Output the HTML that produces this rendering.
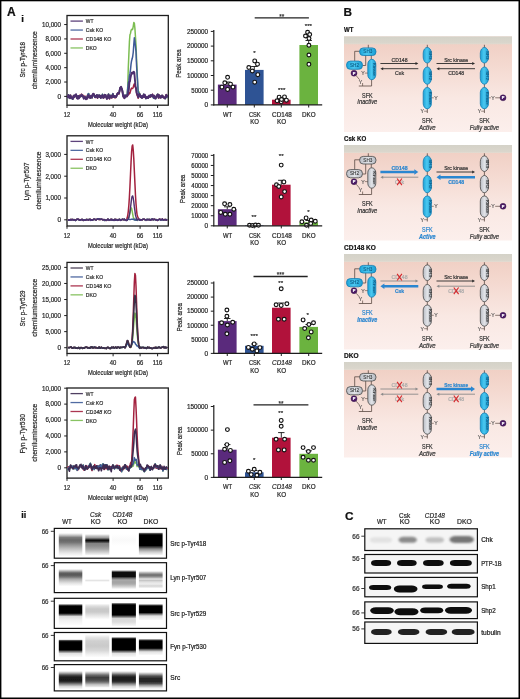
<!DOCTYPE html>
<html><head><meta charset="utf-8"><title>Figure</title><style>html,body{margin:0;padding:0;background:#fff;width:520px;height:699px;overflow:hidden}svg{display:block;font-family:"Liberation Sans",sans-serif;will-change:transform;filter:blur(0.3px)}</style></head><body><svg width="520" height="699" viewBox="0 0 520 699" font-family="'Liberation Sans', sans-serif"><defs><linearGradient id="lg0" gradientUnits="userSpaceOnUse" x1="0" y1="533.00" x2="0" y2="556.00"><stop offset="0.0000" stop-color="rgb(255,255,255)"/><stop offset="0.0870" stop-color="rgb(205,205,205)"/><stop offset="0.1957" stop-color="rgb(125,125,125)"/><stop offset="0.3043" stop-color="rgb(105,105,105)"/><stop offset="0.3913" stop-color="rgb(112,112,112)"/><stop offset="0.5217" stop-color="rgb(150,150,150)"/><stop offset="0.6957" stop-color="rgb(195,195,195)"/><stop offset="0.8696" stop-color="rgb(232,232,232)"/><stop offset="1.0000" stop-color="rgb(252,252,252)"/></linearGradient><linearGradient id="lg1" gradientUnits="userSpaceOnUse" x1="0" y1="534.00" x2="0" y2="555.00"><stop offset="0.0000" stop-color="rgb(255,255,255)"/><stop offset="0.0952" stop-color="rgb(195,195,195)"/><stop offset="0.1905" stop-color="rgb(150,150,150)"/><stop offset="0.2381" stop-color="rgb(70,70,70)"/><stop offset="0.3095" stop-color="rgb(8,8,8)"/><stop offset="0.3810" stop-color="rgb(60,60,60)"/><stop offset="0.4524" stop-color="rgb(130,130,130)"/><stop offset="0.5714" stop-color="rgb(140,140,140)"/><stop offset="0.7143" stop-color="rgb(165,165,165)"/><stop offset="0.8571" stop-color="rgb(205,205,205)"/><stop offset="1.0000" stop-color="rgb(245,245,245)"/></linearGradient><linearGradient id="lg2" gradientUnits="userSpaceOnUse" x1="0" y1="534.00" x2="0" y2="546.00"><stop offset="0.0000" stop-color="rgb(255,255,255)"/><stop offset="0.5000" stop-color="rgb(249,249,249)"/><stop offset="1.0000" stop-color="rgb(255,255,255)"/></linearGradient><linearGradient id="lg3" gradientUnits="userSpaceOnUse" x1="0" y1="532.30" x2="0" y2="555.00"><stop offset="0.0000" stop-color="rgb(255,255,255)"/><stop offset="0.0573" stop-color="rgb(70,70,70)"/><stop offset="0.1101" stop-color="rgb(5,5,5)"/><stop offset="0.5815" stop-color="rgb(5,5,5)"/><stop offset="0.6476" stop-color="rgb(60,60,60)"/><stop offset="0.7357" stop-color="rgb(140,140,140)"/><stop offset="0.8678" stop-color="rgb(205,205,205)"/><stop offset="1.0000" stop-color="rgb(246,246,246)"/></linearGradient><linearGradient id="lg4" gradientUnits="userSpaceOnUse" x1="0" y1="569.00" x2="0" y2="586.00"><stop offset="0.0000" stop-color="rgb(255,255,255)"/><stop offset="0.1176" stop-color="rgb(180,180,180)"/><stop offset="0.2353" stop-color="rgb(95,95,95)"/><stop offset="0.3529" stop-color="rgb(88,88,88)"/><stop offset="0.4706" stop-color="rgb(118,118,118)"/><stop offset="0.5882" stop-color="rgb(170,170,170)"/><stop offset="0.8235" stop-color="rgb(225,225,225)"/><stop offset="1.0000" stop-color="rgb(252,252,252)"/></linearGradient><linearGradient id="lg5" gradientUnits="userSpaceOnUse" x1="0" y1="579.00" x2="0" y2="582.00"><stop offset="0.0000" stop-color="rgb(255,255,255)"/><stop offset="0.5000" stop-color="rgb(228,228,228)"/><stop offset="1.0000" stop-color="rgb(255,255,255)"/></linearGradient><linearGradient id="lg6" gradientUnits="userSpaceOnUse" x1="0" y1="570.00" x2="0" y2="589.00"><stop offset="0.0000" stop-color="rgb(255,255,255)"/><stop offset="0.0789" stop-color="rgb(90,90,90)"/><stop offset="0.1316" stop-color="rgb(8,8,8)"/><stop offset="0.3421" stop-color="rgb(8,8,8)"/><stop offset="0.4211" stop-color="rgb(100,100,100)"/><stop offset="0.5263" stop-color="rgb(170,170,170)"/><stop offset="0.6316" stop-color="rgb(162,162,162)"/><stop offset="0.7368" stop-color="rgb(170,170,170)"/><stop offset="0.8947" stop-color="rgb(215,215,215)"/><stop offset="1.0000" stop-color="rgb(252,252,252)"/></linearGradient><linearGradient id="lg7" gradientUnits="userSpaceOnUse" x1="0" y1="571.00" x2="0" y2="588.00"><stop offset="0.0000" stop-color="rgb(255,255,255)"/><stop offset="0.1176" stop-color="rgb(170,170,170)"/><stop offset="0.2353" stop-color="rgb(105,105,105)"/><stop offset="0.3529" stop-color="rgb(150,150,150)"/><stop offset="0.4706" stop-color="rgb(230,230,230)"/><stop offset="0.5588" stop-color="rgb(198,198,198)"/><stop offset="0.6471" stop-color="rgb(225,225,225)"/><stop offset="0.7647" stop-color="rgb(238,238,238)"/><stop offset="0.8824" stop-color="rgb(212,212,212)"/><stop offset="1.0000" stop-color="rgb(246,246,246)"/></linearGradient><linearGradient id="lg8" gradientUnits="userSpaceOnUse" x1="0" y1="603.80" x2="0" y2="625.00"><stop offset="0.0000" stop-color="rgb(255,255,255)"/><stop offset="0.0660" stop-color="rgb(60,60,60)"/><stop offset="0.1179" stop-color="rgb(5,5,5)"/><stop offset="0.4481" stop-color="rgb(5,5,5)"/><stop offset="0.5094" stop-color="rgb(90,90,90)"/><stop offset="0.5991" stop-color="rgb(220,220,220)"/><stop offset="0.7642" stop-color="rgb(240,240,240)"/><stop offset="1.0000" stop-color="rgb(252,252,252)"/></linearGradient><linearGradient id="lg9" gradientUnits="userSpaceOnUse" x1="0" y1="603.50" x2="0" y2="619.00"><stop offset="0.0000" stop-color="rgb(255,255,255)"/><stop offset="0.1613" stop-color="rgb(222,222,222)"/><stop offset="0.3548" stop-color="rgb(200,200,200)"/><stop offset="0.5484" stop-color="rgb(202,202,202)"/><stop offset="0.7419" stop-color="rgb(225,225,225)"/><stop offset="1.0000" stop-color="rgb(252,252,252)"/></linearGradient><linearGradient id="lg10" gradientUnits="userSpaceOnUse" x1="0" y1="602.60" x2="0" y2="626.00"><stop offset="0.0000" stop-color="rgb(255,255,255)"/><stop offset="0.0556" stop-color="rgb(55,55,55)"/><stop offset="0.1026" stop-color="rgb(5,5,5)"/><stop offset="0.5299" stop-color="rgb(5,5,5)"/><stop offset="0.5855" stop-color="rgb(90,90,90)"/><stop offset="0.6795" stop-color="rgb(215,215,215)"/><stop offset="0.8291" stop-color="rgb(220,220,220)"/><stop offset="1.0000" stop-color="rgb(248,248,248)"/></linearGradient><linearGradient id="lg11" gradientUnits="userSpaceOnUse" x1="0" y1="603.90" x2="0" y2="620.00"><stop offset="0.0000" stop-color="rgb(255,255,255)"/><stop offset="0.0870" stop-color="rgb(60,60,60)"/><stop offset="0.1553" stop-color="rgb(5,5,5)"/><stop offset="0.5404" stop-color="rgb(5,5,5)"/><stop offset="0.6211" stop-color="rgb(100,100,100)"/><stop offset="0.7516" stop-color="rgb(225,225,225)"/><stop offset="1.0000" stop-color="rgb(248,248,248)"/></linearGradient><linearGradient id="lg12" gradientUnits="userSpaceOnUse" x1="0" y1="639.30" x2="0" y2="657.00"><stop offset="0.0000" stop-color="rgb(255,255,255)"/><stop offset="0.0734" stop-color="rgb(60,60,60)"/><stop offset="0.1299" stop-color="rgb(5,5,5)"/><stop offset="0.6045" stop-color="rgb(5,5,5)"/><stop offset="0.6780" stop-color="rgb(100,100,100)"/><stop offset="0.8023" stop-color="rgb(225,225,225)"/><stop offset="1.0000" stop-color="rgb(250,250,250)"/></linearGradient><linearGradient id="lg13" gradientUnits="userSpaceOnUse" x1="0" y1="634.50" x2="0" y2="657.00"><stop offset="0.0000" stop-color="rgb(255,255,255)"/><stop offset="0.1333" stop-color="rgb(228,228,228)"/><stop offset="0.2889" stop-color="rgb(208,208,208)"/><stop offset="0.5111" stop-color="rgb(202,202,202)"/><stop offset="0.7111" stop-color="rgb(215,215,215)"/><stop offset="0.8667" stop-color="rgb(238,238,238)"/><stop offset="1.0000" stop-color="rgb(252,252,252)"/></linearGradient><linearGradient id="lg14" gradientUnits="userSpaceOnUse" x1="0" y1="636.90" x2="0" y2="657.00"><stop offset="0.0000" stop-color="rgb(255,255,255)"/><stop offset="0.0647" stop-color="rgb(60,60,60)"/><stop offset="0.1144" stop-color="rgb(5,5,5)"/><stop offset="0.6517" stop-color="rgb(5,5,5)"/><stop offset="0.7164" stop-color="rgb(100,100,100)"/><stop offset="0.8259" stop-color="rgb(225,225,225)"/><stop offset="1.0000" stop-color="rgb(250,250,250)"/></linearGradient><linearGradient id="lg15" gradientUnits="userSpaceOnUse" x1="0" y1="638.80" x2="0" y2="655.00"><stop offset="0.0000" stop-color="rgb(255,255,255)"/><stop offset="0.0802" stop-color="rgb(60,60,60)"/><stop offset="0.1420" stop-color="rgb(5,5,5)"/><stop offset="0.5864" stop-color="rgb(5,5,5)"/><stop offset="0.6667" stop-color="rgb(100,100,100)"/><stop offset="0.8025" stop-color="rgb(225,225,225)"/><stop offset="1.0000" stop-color="rgb(250,250,250)"/></linearGradient><linearGradient id="lg16" gradientUnits="userSpaceOnUse" x1="0" y1="671.00" x2="0" y2="689.00"><stop offset="0.0000" stop-color="rgb(255,255,255)"/><stop offset="0.1111" stop-color="rgb(175,175,175)"/><stop offset="0.2222" stop-color="rgb(80,80,80)"/><stop offset="0.3333" stop-color="rgb(28,28,28)"/><stop offset="0.5000" stop-color="rgb(25,25,25)"/><stop offset="0.6111" stop-color="rgb(50,50,50)"/><stop offset="0.7222" stop-color="rgb(130,130,130)"/><stop offset="0.8611" stop-color="rgb(215,215,215)"/><stop offset="1.0000" stop-color="rgb(250,250,250)"/></linearGradient><linearGradient id="lg17" gradientUnits="userSpaceOnUse" x1="0" y1="671.00" x2="0" y2="687.50"><stop offset="0.0000" stop-color="rgb(255,255,255)"/><stop offset="0.1212" stop-color="rgb(185,185,185)"/><stop offset="0.2424" stop-color="rgb(110,110,110)"/><stop offset="0.3939" stop-color="rgb(62,62,62)"/><stop offset="0.5455" stop-color="rgb(72,72,72)"/><stop offset="0.6667" stop-color="rgb(110,110,110)"/><stop offset="0.8182" stop-color="rgb(190,190,190)"/><stop offset="1.0000" stop-color="rgb(245,245,245)"/></linearGradient><linearGradient id="lg18" gradientUnits="userSpaceOnUse" x1="0" y1="671.00" x2="0" y2="689.00"><stop offset="0.0000" stop-color="rgb(255,255,255)"/><stop offset="0.1111" stop-color="rgb(175,175,175)"/><stop offset="0.2222" stop-color="rgb(80,80,80)"/><stop offset="0.3333" stop-color="rgb(30,30,30)"/><stop offset="0.5000" stop-color="rgb(28,28,28)"/><stop offset="0.6111" stop-color="rgb(52,52,52)"/><stop offset="0.7222" stop-color="rgb(135,135,135)"/><stop offset="0.8611" stop-color="rgb(215,215,215)"/><stop offset="1.0000" stop-color="rgb(250,250,250)"/></linearGradient><linearGradient id="lg19" gradientUnits="userSpaceOnUse" x1="0" y1="672.00" x2="0" y2="690.00"><stop offset="0.0000" stop-color="rgb(255,255,255)"/><stop offset="0.1111" stop-color="rgb(175,175,175)"/><stop offset="0.2222" stop-color="rgb(85,85,85)"/><stop offset="0.3611" stop-color="rgb(40,40,40)"/><stop offset="0.5278" stop-color="rgb(40,40,40)"/><stop offset="0.6389" stop-color="rgb(75,75,75)"/><stop offset="0.7500" stop-color="rgb(160,160,160)"/><stop offset="0.8889" stop-color="rgb(240,240,240)"/><stop offset="1.0000" stop-color="rgb(254,254,254)"/></linearGradient></defs>
<defs>
<linearGradient id="pinkg" x1="0" y1="0" x2="0" y2="1">
 <stop offset="0" stop-color="#efcdc1"/><stop offset="0.3" stop-color="#f4d9d0"/><stop offset="0.65" stop-color="#f9e8e3"/><stop offset="1" stop-color="#fcefec"/>
</linearGradient>
<linearGradient id="memg" x1="0" y1="0" x2="0" y2="1">
 <stop offset="0" stop-color="#d4d2c8"/><stop offset="0.75" stop-color="#dad6cc"/><stop offset="0.88" stop-color="#e2dad0"/><stop offset="1" stop-color="#efcdc1" stop-opacity="0"/>
</linearGradient>
<linearGradient id="cyg" x1="0" y1="0" x2="1" y2="0">
 <stop offset="0" stop-color="#1ba3d8"/><stop offset="0.45" stop-color="#4cc8f0"/><stop offset="1" stop-color="#189cd2"/>
</linearGradient>
<linearGradient id="grg" x1="0" y1="0" x2="1" y2="0">
 <stop offset="0" stop-color="#b9bdc5"/><stop offset="0.5" stop-color="#e2e4e8"/><stop offset="1" stop-color="#b5b9c1"/>
</linearGradient>
<filter id="bH" x="-10%" y="-10%" width="120%" height="120%"><feGaussianBlur stdDeviation="0.45 0.25"/></filter>
<filter id="bA1" x="-10%" y="-100%" width="120%" height="300%"><feGaussianBlur stdDeviation="0.35 0.8"/></filter>
<filter id="bA2" x="-10%" y="-100%" width="120%" height="300%"><feGaussianBlur stdDeviation="0.35 1.6"/></filter>
<filter id="bA3" x="-10%" y="-100%" width="120%" height="300%"><feGaussianBlur stdDeviation="0.35 2.6"/></filter>
<filter id="bC1" x="-10%" y="-100%" width="120%" height="300%"><feGaussianBlur stdDeviation="0.7 0.6"/></filter>
<filter id="bC2" x="-20%" y="-100%" width="140%" height="300%"><feGaussianBlur stdDeviation="1.2 1.2"/></filter>
</defs>
<text x="6.90" y="16.00" font-size="12" text-anchor="start" fill="#111" stroke="#111" stroke-width="0.22" font-weight="bold" >A</text>
<text x="22.70" y="21.70" font-size="9.6" text-anchor="middle" fill="#111" stroke="#111" stroke-width="0.22" font-weight="bold" >i</text>
<rect x="67.0" y="15.5" width="101.30" height="89.70" fill="none" stroke="#1e1e1e" stroke-width="1.3"/>
<path d="M67.80,98.31 L68.35,94.93 L68.90,97.25 L69.45,95.38 L70.00,97.72 L70.55,95.33 L71.10,97.67 L71.65,98.04 L72.20,98.93 L72.75,99.15 L73.30,97.11 L73.85,96.37 L74.40,97.11 L74.95,95.30 L75.50,94.93 L76.05,94.52 L76.60,96.71 L77.15,98.16 L77.70,97.92 L78.25,95.70 L78.80,97.14 L79.35,97.17 L79.90,96.10 L80.45,96.63 L81.00,96.17 L81.55,94.42 L82.10,95.41 L82.65,95.78 L83.20,95.96 L83.75,98.29 L84.30,98.13 L84.85,96.67 L85.40,98.21 L85.95,99.10 L86.50,97.22 L87.05,98.36 L87.60,95.08 L88.15,93.91 L88.70,93.61 L89.25,96.98 L89.80,96.82 L90.35,97.55 L90.90,96.52 L91.45,97.00 L92.00,97.90 L92.55,96.07 L93.10,94.39 L93.65,94.29 L94.20,94.78 L94.75,97.27 L95.30,96.79 L95.85,96.72 L96.40,96.90 L96.95,94.90 L97.50,97.62 L98.05,96.40 L98.60,95.24 L99.15,95.11 L99.70,96.91 L100.25,96.24 L100.80,98.04 L101.35,96.88 L101.90,96.44 L102.45,94.23 L103.00,97.25 L103.55,97.65 L104.10,96.75 L104.65,94.72 L105.20,95.75 L105.75,95.95 L106.30,97.13 L106.85,98.17 L107.40,97.81 L107.95,95.98 L108.50,93.96 L109.05,97.10 L109.60,97.85 L110.15,95.24 L110.70,95.92 L111.25,95.86 L111.80,97.49 L112.35,94.85 L112.90,93.65 L113.45,96.70 L114.00,96.61 L114.55,95.78 L115.10,97.14 L115.65,97.06 L116.20,96.95 L116.75,95.21 L117.30,94.23 L117.85,93.38 L118.40,93.84 L118.95,93.45 L119.50,90.84 L120.05,88.40 L120.60,87.42 L121.15,87.71 L121.70,88.76 L122.25,89.71 L122.80,93.45 L123.35,96.06 L123.90,97.28 L124.45,97.76 L125.00,94.96 L125.55,96.91 L126.10,96.69 L126.65,95.46 L127.20,94.11 L127.75,86.05 L128.30,67.66 L128.85,55.00 L129.40,42.16 L129.95,34.70 L130.50,33.45 L131.05,30.47 L131.60,29.37 L132.15,29.71 L132.70,29.21 L133.25,26.36 L133.80,22.55 L134.35,23.17 L134.90,28.26 L135.45,36.84 L136.00,45.08 L136.55,58.73 L137.10,69.86 L137.65,85.20 L138.20,91.30 L138.75,91.40 L139.30,92.88 L139.85,93.98 L140.40,96.55 L140.95,96.62 L141.50,96.73 L142.05,98.13 L142.60,96.36 L143.15,97.31 L143.70,94.35 L144.25,96.22 L144.80,95.61 L145.35,96.72 L145.90,98.46 L146.45,98.28 L147.00,96.95 L147.55,97.09 L148.10,98.07 L148.65,97.02 L149.20,95.88 L149.75,95.98 L150.30,95.94 L150.85,94.83 L151.40,95.43 L151.95,96.48 L152.50,95.68 L153.05,96.94 L153.60,98.30 L154.15,97.18 L154.70,98.30 L155.25,98.57 L155.80,97.82 L156.35,96.38 L156.90,95.40 L157.45,94.27 L158.00,94.18 L158.55,97.63 L159.10,95.44 L159.65,96.93 L160.20,96.82 L160.75,97.71 L161.30,95.57 L161.85,96.46 L162.40,95.62 L162.95,96.91 L163.50,97.67 L164.05,97.47 L164.60,97.64 L165.15,98.67 L165.70,96.06 L166.25,95.07 L166.80,97.58 L167.35,94.64" fill="none" stroke="#7cbd52" stroke-width="1.5" stroke-linejoin="round"/>
<path d="M67.80,97.93 L68.35,95.47 L68.90,97.24 L69.45,95.75 L70.00,97.94 L70.55,95.07 L71.10,97.73 L71.65,97.54 L72.20,98.55 L72.75,99.05 L73.30,95.95 L73.85,95.93 L74.40,97.60 L74.95,96.01 L75.50,95.49 L76.05,94.57 L76.60,96.54 L77.15,98.03 L77.70,98.57 L78.25,95.65 L78.80,98.33 L79.35,97.04 L79.90,95.14 L80.45,95.54 L81.00,95.47 L81.55,94.11 L82.10,95.47 L82.65,94.81 L83.20,96.14 L83.75,97.87 L84.30,97.06 L84.85,95.96 L85.40,97.86 L85.95,98.56 L86.50,97.84 L87.05,98.60 L87.60,95.59 L88.15,95.22 L88.70,94.86 L89.25,97.04 L89.80,97.14 L90.35,97.92 L90.90,96.52 L91.45,96.41 L92.00,97.83 L92.55,94.99 L93.10,94.13 L93.65,93.95 L94.20,94.67 L94.75,97.37 L95.30,97.65 L95.85,96.93 L96.40,96.58 L96.95,95.79 L97.50,98.32 L98.05,96.35 L98.60,95.48 L99.15,95.90 L99.70,97.29 L100.25,96.16 L100.80,97.26 L101.35,95.91 L101.90,96.59 L102.45,95.43 L103.00,97.20 L103.55,98.03 L104.10,97.11 L104.65,95.26 L105.20,96.48 L105.75,96.14 L106.30,97.12 L106.85,98.69 L107.40,97.68 L107.95,96.44 L108.50,94.17 L109.05,97.49 L109.60,98.86 L110.15,96.33 L110.70,96.57 L111.25,96.34 L111.80,98.01 L112.35,95.47 L112.90,93.75 L113.45,96.32 L114.00,96.17 L114.55,96.40 L115.10,97.89 L115.65,97.68 L116.20,97.29 L116.75,95.45 L117.30,94.03 L117.85,92.86 L118.40,93.55 L118.95,94.17 L119.50,91.88 L120.05,88.34 L120.60,87.39 L121.15,86.99 L121.70,88.84 L122.25,90.47 L122.80,94.19 L123.35,96.55 L123.90,97.68 L124.45,98.29 L125.00,95.33 L125.55,96.55 L126.10,96.17 L126.65,95.41 L127.20,96.60 L127.75,95.05 L128.30,93.67 L128.85,94.44 L129.40,92.71 L129.95,93.16 L130.50,90.99 L131.05,89.02 L131.60,88.05 L132.15,88.58 L132.70,88.50 L133.25,87.23 L133.80,84.97 L134.35,83.78 L134.90,86.25 L135.45,87.55 L136.00,88.02 L136.55,92.79 L137.10,95.59 L137.65,96.07 L138.20,98.28 L138.75,95.79 L139.30,95.00 L139.85,95.45 L140.40,96.83 L140.95,97.26 L141.50,96.60 L142.05,98.27 L142.60,96.23 L143.15,97.36 L143.70,94.90 L144.25,97.31 L144.80,94.95 L145.35,96.86 L145.90,98.00 L146.45,97.29 L147.00,97.54 L147.55,97.15 L148.10,98.23 L148.65,96.34 L149.20,95.91 L149.75,96.68 L150.30,97.09 L150.85,95.70 L151.40,95.97 L151.95,95.61 L152.50,94.18 L153.05,95.99 L153.60,96.76 L154.15,95.65 L154.70,96.98 L155.25,98.26 L155.80,97.54 L156.35,97.04 L156.90,96.41 L157.45,94.32 L158.00,94.69 L158.55,97.81 L159.10,94.91 L159.65,97.44 L160.20,97.87 L160.75,97.61 L161.30,96.06 L161.85,97.12 L162.40,95.41 L162.95,96.28 L163.50,97.04 L164.05,98.20 L164.60,97.19 L165.15,98.14 L165.70,95.96 L166.25,94.46 L166.80,96.69 L167.35,94.94" fill="none" stroke="#a3223f" stroke-width="1.5" stroke-linejoin="round"/>
<path d="M67.80,98.31 L68.35,94.93 L68.90,97.25 L69.45,95.38 L70.00,97.72 L70.55,95.33 L71.10,97.67 L71.65,98.04 L72.20,98.93 L72.75,99.15 L73.30,97.11 L73.85,96.37 L74.40,97.11 L74.95,95.30 L75.50,94.93 L76.05,94.52 L76.60,96.71 L77.15,98.16 L77.70,97.92 L78.25,95.70 L78.80,97.14 L79.35,97.17 L79.90,96.10 L80.45,96.63 L81.00,96.17 L81.55,94.42 L82.10,95.41 L82.65,95.78 L83.20,95.96 L83.75,98.29 L84.30,98.13 L84.85,96.67 L85.40,98.21 L85.95,99.10 L86.50,97.22 L87.05,98.36 L87.60,95.08 L88.15,93.91 L88.70,93.61 L89.25,96.98 L89.80,96.82 L90.35,97.55 L90.90,96.52 L91.45,97.00 L92.00,97.90 L92.55,96.07 L93.10,94.39 L93.65,94.29 L94.20,94.78 L94.75,97.27 L95.30,96.79 L95.85,96.72 L96.40,96.90 L96.95,94.90 L97.50,97.62 L98.05,96.40 L98.60,95.24 L99.15,95.11 L99.70,96.91 L100.25,96.24 L100.80,98.04 L101.35,96.88 L101.90,96.44 L102.45,94.23 L103.00,97.25 L103.55,97.65 L104.10,96.75 L104.65,94.72 L105.20,95.75 L105.75,95.95 L106.30,97.13 L106.85,98.17 L107.40,97.81 L107.95,95.98 L108.50,93.96 L109.05,97.10 L109.60,97.85 L110.15,95.24 L110.70,95.92 L111.25,95.86 L111.80,97.49 L112.35,94.85 L112.90,93.65 L113.45,96.70 L114.00,96.61 L114.55,95.78 L115.10,97.14 L115.65,97.06 L116.20,96.95 L116.75,95.21 L117.30,94.23 L117.85,93.38 L118.40,93.84 L118.95,93.45 L119.50,90.84 L120.05,88.40 L120.60,87.42 L121.15,87.71 L121.70,88.76 L122.25,89.71 L122.80,93.45 L123.35,96.06 L123.90,97.28 L124.45,97.76 L125.00,94.96 L125.55,96.91 L126.10,96.69 L126.65,96.06 L127.20,94.18 L127.75,88.29 L128.30,83.02 L128.85,80.89 L129.40,75.61 L129.95,73.41 L130.50,69.61 L131.05,64.06 L131.60,60.68 L132.15,58.81 L132.70,56.51 L133.25,52.25 L133.80,44.49 L134.35,37.85 L134.90,41.69 L135.45,46.42 L136.00,51.58 L136.55,65.23 L137.10,74.91 L137.65,82.31 L138.20,92.43 L138.75,92.89 L139.30,94.56 L139.85,94.34 L140.40,96.55 L140.95,96.62 L141.50,96.73 L142.05,98.13 L142.60,96.36 L143.15,97.31 L143.70,94.35 L144.25,96.22 L144.80,95.61 L145.35,96.72 L145.90,98.46 L146.45,98.28 L147.00,96.95 L147.55,97.09 L148.10,98.07 L148.65,97.02 L149.20,95.88 L149.75,95.98 L150.30,95.94 L150.85,94.83 L151.40,95.43 L151.95,96.48 L152.50,95.68 L153.05,96.94 L153.60,98.30 L154.15,97.18 L154.70,98.30 L155.25,98.57 L155.80,97.82 L156.35,96.38 L156.90,95.40 L157.45,94.27 L158.00,94.18 L158.55,97.63 L159.10,95.44 L159.65,96.93 L160.20,96.82 L160.75,97.71 L161.30,95.57 L161.85,96.46 L162.40,95.62 L162.95,96.91 L163.50,97.67 L164.05,97.47 L164.60,97.64 L165.15,98.67 L165.70,96.06 L166.25,95.07 L166.80,97.58 L167.35,94.64" fill="none" stroke="#3e5b98" stroke-width="1.5" stroke-linejoin="round"/>
<path d="M67.80,98.15 L68.35,94.93 L68.90,97.30 L69.45,96.03 L70.00,98.37 L70.55,95.87 L71.10,96.94 L71.65,97.70 L72.20,97.81 L72.75,98.81 L73.30,96.50 L73.85,95.50 L74.40,96.87 L74.95,95.72 L75.50,94.58 L76.05,94.30 L76.60,96.86 L77.15,98.43 L77.70,98.73 L78.25,96.08 L78.80,98.42 L79.35,97.65 L79.90,96.17 L80.45,95.79 L81.00,96.32 L81.55,95.30 L82.10,95.96 L82.65,95.94 L83.20,97.00 L83.75,98.83 L84.30,98.22 L84.85,97.05 L85.40,97.57 L85.95,99.27 L86.50,97.94 L87.05,98.79 L87.60,96.11 L88.15,95.30 L88.70,95.23 L89.25,97.80 L89.80,97.73 L90.35,97.91 L90.90,95.66 L91.45,95.93 L92.00,97.34 L92.55,94.84 L93.10,93.74 L93.65,93.92 L94.20,94.63 L94.75,96.73 L95.30,96.94 L95.85,96.03 L96.40,96.43 L96.95,94.86 L97.50,97.68 L98.05,96.65 L98.60,95.90 L99.15,95.29 L99.70,96.71 L100.25,95.70 L100.80,98.03 L101.35,95.95 L101.90,96.56 L102.45,95.20 L103.00,97.82 L103.55,97.69 L104.10,97.17 L104.65,94.75 L105.20,95.28 L105.75,95.06 L106.30,97.69 L106.85,98.96 L107.40,98.47 L107.95,96.53 L108.50,94.87 L109.05,97.53 L109.60,98.39 L110.15,95.84 L110.70,96.74 L111.25,96.09 L111.80,97.43 L112.35,95.64 L112.90,94.97 L113.45,96.94 L114.00,97.15 L114.55,96.03 L115.10,96.70 L115.65,96.27 L116.20,96.52 L116.75,95.43 L117.30,93.64 L117.85,93.19 L118.40,93.31 L118.95,93.14 L119.50,91.15 L120.05,88.14 L120.60,87.33 L121.15,86.80 L121.70,88.45 L122.25,90.34 L122.80,94.13 L123.35,96.71 L123.90,97.51 L124.45,98.17 L125.00,95.76 L125.55,96.77 L126.10,95.78 L126.65,95.40 L127.20,95.88 L127.75,95.19 L128.30,92.30 L128.85,89.45 L129.40,82.47 L129.95,81.29 L130.50,77.67 L131.05,75.32 L131.60,73.06 L132.15,72.55 L132.70,73.55 L133.25,72.23 L133.80,71.68 L134.35,72.73 L134.90,79.34 L135.45,85.86 L136.00,88.23 L136.55,92.48 L137.10,94.07 L137.65,94.92 L138.20,97.28 L138.75,95.72 L139.30,93.94 L139.85,94.31 L140.40,96.88 L140.95,97.31 L141.50,96.08 L142.05,97.50 L142.60,95.91 L143.15,96.82 L143.70,94.52 L144.25,96.79 L144.80,94.68 L145.35,96.52 L145.90,98.39 L146.45,97.78 L147.00,96.65 L147.55,96.90 L148.10,98.02 L148.65,97.26 L149.20,95.43 L149.75,96.49 L150.30,96.85 L150.85,95.23 L151.40,96.19 L151.95,96.13 L152.50,94.55 L153.05,95.74 L153.60,97.39 L154.15,95.62 L154.70,97.04 L155.25,98.48 L155.80,98.57 L156.35,96.39 L156.90,95.68 L157.45,95.04 L158.00,94.78 L158.55,97.75 L159.10,95.20 L159.65,97.08 L160.20,97.14 L160.75,97.67 L161.30,95.74 L161.85,97.30 L162.40,95.59 L162.95,96.85 L163.50,97.06 L164.05,97.72 L164.60,97.52 L165.15,98.46 L165.70,96.23 L166.25,95.00 L166.80,96.82 L167.35,94.80" fill="none" stroke="#4d2f6e" stroke-width="1.9" stroke-linejoin="round"/>
<line x1="64.20" y1="96.40" x2="67.0" y2="96.40" stroke="#1e1e1e" stroke-width="1"/>
<text x="61.00" y="98.70" font-size="6.5" text-anchor="end" fill="#2b2b2b" stroke="#2b2b2b" stroke-width="0.22" >0</text>
<line x1="64.20" y1="82.03" x2="67.0" y2="82.03" stroke="#1e1e1e" stroke-width="1"/>
<text x="61.00" y="84.33" font-size="6.5" text-anchor="end" fill="#2b2b2b" stroke="#2b2b2b" stroke-width="0.22" textLength="15.6" lengthAdjust="spacingAndGlyphs" >2,000</text>
<line x1="64.20" y1="67.66" x2="67.0" y2="67.66" stroke="#1e1e1e" stroke-width="1"/>
<text x="61.00" y="69.96" font-size="6.5" text-anchor="end" fill="#2b2b2b" stroke="#2b2b2b" stroke-width="0.22" textLength="15.6" lengthAdjust="spacingAndGlyphs" >4,000</text>
<line x1="64.20" y1="53.29" x2="67.0" y2="53.29" stroke="#1e1e1e" stroke-width="1"/>
<text x="61.00" y="55.59" font-size="6.5" text-anchor="end" fill="#2b2b2b" stroke="#2b2b2b" stroke-width="0.22" textLength="15.6" lengthAdjust="spacingAndGlyphs" >6,000</text>
<line x1="64.20" y1="38.92" x2="67.0" y2="38.92" stroke="#1e1e1e" stroke-width="1"/>
<text x="61.00" y="41.22" font-size="6.5" text-anchor="end" fill="#2b2b2b" stroke="#2b2b2b" stroke-width="0.22" textLength="15.6" lengthAdjust="spacingAndGlyphs" >8,000</text>
<line x1="64.20" y1="24.55" x2="67.0" y2="24.55" stroke="#1e1e1e" stroke-width="1"/>
<text x="61.00" y="26.85" font-size="6.5" text-anchor="end" fill="#2b2b2b" stroke="#2b2b2b" stroke-width="0.22" textLength="19.0" lengthAdjust="spacingAndGlyphs" >10,000</text>
<line x1="67.0" y1="105.2" x2="67.0" y2="108.0" stroke="#1e1e1e" stroke-width="1"/>
<text x="67.00" y="117.10" font-size="6.6" text-anchor="middle" fill="#2b2b2b" stroke="#2b2b2b" stroke-width="0.22" textLength="6.4" lengthAdjust="spacingAndGlyphs" >12</text>
<line x1="113.1" y1="105.2" x2="113.1" y2="108.0" stroke="#1e1e1e" stroke-width="1"/>
<text x="113.10" y="117.10" font-size="6.6" text-anchor="middle" fill="#2b2b2b" stroke="#2b2b2b" stroke-width="0.22" textLength="6.6" lengthAdjust="spacingAndGlyphs" >40</text>
<line x1="140.1" y1="105.2" x2="140.1" y2="108.0" stroke="#1e1e1e" stroke-width="1"/>
<text x="140.10" y="117.10" font-size="6.6" text-anchor="middle" fill="#2b2b2b" stroke="#2b2b2b" stroke-width="0.22" textLength="6.6" lengthAdjust="spacingAndGlyphs" >66</text>
<line x1="157.6" y1="105.2" x2="157.6" y2="108.0" stroke="#1e1e1e" stroke-width="1"/>
<text x="157.60" y="117.10" font-size="6.6" text-anchor="middle" fill="#2b2b2b" stroke="#2b2b2b" stroke-width="0.22" textLength="9.6" lengthAdjust="spacingAndGlyphs" >116</text>
<text x="117.90" y="127.10" font-size="7.0" text-anchor="middle" fill="#2b2b2b" stroke="#2b2b2b" stroke-width="0.22" textLength="60" lengthAdjust="spacingAndGlyphs" >Molecular weight (kDa)</text>
<text x="25.20" y="77.60" font-size="7.3" text-anchor="start" fill="#2b2b2b" stroke="#2b2b2b" stroke-width="0.22" textLength="35.6" lengthAdjust="spacingAndGlyphs" transform="rotate(-90 25.20 77.60)" >Src p-Tyr418</text>
<text x="36.90" y="89.30" font-size="7.3" text-anchor="start" fill="#2b2b2b" stroke="#2b2b2b" stroke-width="0.22" textLength="58.0" lengthAdjust="spacingAndGlyphs" transform="rotate(-90 36.90 89.30)" >chemiluminescence</text>
<line x1="70.5" y1="21.10" x2="82.9" y2="21.10" stroke="#4d2f6e" stroke-width="1.3" opacity="0.9"/>
<text x="85.80" y="23.20" font-size="5.9" text-anchor="start" fill="#2b2b2b" stroke="#2b2b2b" stroke-width="0.22" textLength="7.7" lengthAdjust="spacingAndGlyphs" >WT</text>
<line x1="70.5" y1="30.05" x2="82.9" y2="30.05" stroke="#3e5b98" stroke-width="1.3" opacity="0.9"/>
<text x="85.80" y="32.15" font-size="5.9" text-anchor="start" fill="#2b2b2b" stroke="#2b2b2b" stroke-width="0.22" textLength="17.3" lengthAdjust="spacingAndGlyphs" >Csk KO</text>
<line x1="70.5" y1="39.00" x2="82.9" y2="39.00" stroke="#a3223f" stroke-width="1.3" opacity="0.9"/>
<text x="85.80" y="41.10" font-size="5.9" text-anchor="start" fill="#2b2b2b" stroke="#2b2b2b" stroke-width="0.22" textLength="25.5" lengthAdjust="spacingAndGlyphs" >CD148 KO</text>
<line x1="70.5" y1="47.95" x2="82.9" y2="47.95" stroke="#7cbd52" stroke-width="1.3" opacity="0.9"/>
<text x="85.80" y="50.05" font-size="5.9" text-anchor="start" fill="#2b2b2b" stroke="#2b2b2b" stroke-width="0.22" textLength="11" lengthAdjust="spacingAndGlyphs" >DKO</text>
<rect x="67.0" y="135.8" width="101.30" height="90.20" fill="none" stroke="#1e1e1e" stroke-width="1.3"/>
<path d="M67.80,220.16 L68.35,220.22 L68.90,220.00 L69.45,219.96 L70.00,220.22 L70.55,219.60 L71.10,219.54 L71.65,219.94 L72.20,219.55 L72.75,219.67 L73.30,219.49 L73.85,220.05 L74.40,219.73 L74.95,220.32 L75.50,220.49 L76.05,219.89 L76.60,219.42 L77.15,219.05 L77.70,219.40 L78.25,219.21 L78.80,219.71 L79.35,220.24 L79.90,219.96 L80.45,220.25 L81.00,219.72 L81.55,219.58 L82.10,219.31 L82.65,220.06 L83.20,220.42 L83.75,219.84 L84.30,219.96 L84.85,220.06 L85.40,220.19 L85.95,219.74 L86.50,219.45 L87.05,219.70 L87.60,219.57 L88.15,219.62 L88.70,219.94 L89.25,219.37 L89.80,219.20 L90.35,219.42 L90.90,220.35 L91.45,219.87 L92.00,219.87 L92.55,220.27 L93.10,219.71 L93.65,219.33 L94.20,219.52 L94.75,219.20 L95.30,219.61 L95.85,219.97 L96.40,219.73 L96.95,219.26 L97.50,218.97 L98.05,218.80 L98.60,218.77 L99.15,219.46 L99.70,218.96 L100.25,219.45 L100.80,219.30 L101.35,219.29 L101.90,219.35 L102.45,219.63 L103.00,219.86 L103.55,219.64 L104.10,219.82 L104.65,220.40 L105.20,219.97 L105.75,220.31 L106.30,220.38 L106.85,220.19 L107.40,219.46 L107.95,218.98 L108.50,219.49 L109.05,220.21 L109.60,220.11 L110.15,219.75 L110.70,219.48 L111.25,219.95 L111.80,219.23 L112.35,219.72 L112.90,220.20 L113.45,219.94 L114.00,220.26 L114.55,219.57 L115.10,219.23 L115.65,220.30 L116.20,220.06 L116.75,219.50 L117.30,219.91 L117.85,220.32 L118.40,219.88 L118.95,219.47 L119.50,219.22 L120.05,219.64 L120.60,220.28 L121.15,219.65 L121.70,219.89 L122.25,219.25 L122.80,219.13 L123.35,219.46 L123.90,219.81 L124.45,219.14 L125.00,219.83 L125.55,220.15 L126.10,220.09 L126.65,220.39 L127.20,220.25 L127.75,219.36 L128.30,218.65 L128.85,217.64 L129.40,215.57 L129.95,212.95 L130.50,209.78 L131.05,207.89 L131.60,208.39 L132.15,211.10 L132.70,214.09 L133.25,217.00 L133.80,218.38 L134.35,219.76 L134.90,219.25 L135.45,220.26 L136.00,219.62 L136.55,220.15 L137.10,220.41 L137.65,219.55 L138.20,219.35 L138.75,219.43 L139.30,220.11 L139.85,219.50 L140.40,220.22 L140.95,219.73 L141.50,219.73 L142.05,219.83 L142.60,219.20 L143.15,219.38 L143.70,219.22 L144.25,219.35 L144.80,219.64 L145.35,219.99 L145.90,220.20 L146.45,219.94 L147.00,219.33 L147.55,219.71 L148.10,219.45 L148.65,219.71 L149.20,219.64 L149.75,219.27 L150.30,220.04 L150.85,220.17 L151.40,219.35 L151.95,219.01 L152.50,218.97 L153.05,219.97 L153.60,219.68 L154.15,219.32 L154.70,219.42 L155.25,219.65 L155.80,219.96 L156.35,219.50 L156.90,220.05 L157.45,220.34 L158.00,219.92 L158.55,219.92 L159.10,219.45 L159.65,219.22 L160.20,219.49 L160.75,220.14 L161.30,219.81 L161.85,219.94 L162.40,219.14 L162.95,219.94 L163.50,220.02 L164.05,219.83 L164.60,219.74 L165.15,219.45 L165.70,219.46 L166.25,220.03 L166.80,219.57 L167.35,219.43" fill="none" stroke="#7cbd52" stroke-width="1.5" stroke-linejoin="round"/>
<path d="M67.80,219.84 L68.35,219.89 L68.90,220.13 L69.45,219.92 L70.00,220.33 L70.55,219.69 L71.10,219.44 L71.65,219.72 L72.20,219.42 L72.75,219.71 L73.30,219.69 L73.85,220.21 L74.40,219.50 L74.95,220.25 L75.50,220.35 L76.05,219.76 L76.60,219.49 L77.15,219.06 L77.70,219.14 L78.25,219.27 L78.80,219.47 L79.35,220.12 L79.90,219.52 L80.45,219.99 L81.00,219.90 L81.55,219.69 L82.10,219.24 L82.65,219.94 L83.20,220.47 L83.75,219.92 L84.30,220.14 L84.85,220.14 L85.40,220.07 L85.95,219.98 L86.50,219.25 L87.05,219.69 L87.60,219.74 L88.15,219.70 L88.70,220.06 L89.25,219.31 L89.80,219.16 L90.35,219.18 L90.90,220.24 L91.45,220.09 L92.00,220.13 L92.55,220.11 L93.10,219.62 L93.65,219.21 L94.20,219.31 L94.75,219.12 L95.30,219.62 L95.85,220.26 L96.40,219.89 L96.95,219.08 L97.50,219.08 L98.05,219.00 L98.60,219.18 L99.15,219.74 L99.70,219.11 L100.25,219.27 L100.80,219.48 L101.35,219.35 L101.90,219.22 L102.45,219.78 L103.00,219.88 L103.55,219.66 L104.10,219.59 L104.65,220.27 L105.20,219.84 L105.75,220.12 L106.30,220.54 L106.85,219.96 L107.40,219.65 L107.95,219.01 L108.50,219.39 L109.05,220.34 L109.60,220.03 L110.15,219.79 L110.70,219.34 L111.25,219.83 L111.80,219.30 L112.35,219.73 L112.90,219.98 L113.45,219.82 L114.00,220.26 L114.55,219.43 L115.10,219.18 L115.65,220.20 L116.20,219.79 L116.75,219.39 L117.30,219.75 L117.85,220.22 L118.40,219.85 L118.95,219.52 L119.50,219.23 L120.05,219.74 L120.60,220.28 L121.15,219.90 L121.70,219.87 L122.25,219.23 L122.80,219.30 L123.35,219.66 L123.90,219.81 L124.45,219.42 L125.00,219.88 L125.55,220.10 L126.10,219.84 L126.65,219.48 L127.20,217.86 L127.75,215.28 L128.30,211.32 L128.85,205.37 L129.40,196.98 L129.95,186.52 L130.50,174.29 L131.05,162.15 L131.60,151.88 L132.15,146.06 L132.70,144.94 L133.25,149.97 L133.80,158.85 L134.35,171.10 L134.90,182.90 L135.45,194.82 L136.00,203.60 L136.55,210.37 L137.10,214.87 L137.65,216.56 L138.20,217.71 L138.75,218.95 L139.30,219.61 L139.85,219.54 L140.40,219.95 L140.95,219.62 L141.50,219.76 L142.05,220.08 L142.60,219.42 L143.15,219.34 L143.70,219.08 L144.25,219.10 L144.80,219.68 L145.35,220.09 L145.90,220.41 L146.45,219.89 L147.00,219.67 L147.55,219.91 L148.10,219.52 L148.65,219.68 L149.20,219.85 L149.75,219.34 L150.30,220.07 L150.85,220.19 L151.40,219.58 L151.95,219.08 L152.50,218.82 L153.05,219.80 L153.60,219.37 L154.15,219.15 L154.70,219.48 L155.25,219.49 L155.80,219.77 L156.35,219.76 L156.90,220.27 L157.45,220.46 L158.00,219.90 L158.55,219.94 L159.10,219.15 L159.65,219.06 L160.20,219.34 L160.75,220.13 L161.30,219.45 L161.85,219.59 L162.40,218.92 L162.95,219.65 L163.50,219.73 L164.05,219.74 L164.60,219.53 L165.15,219.48 L165.70,219.72 L166.25,220.23 L166.80,219.94 L167.35,219.63" fill="none" stroke="#a3223f" stroke-width="1.5" stroke-linejoin="round"/>
<path d="M67.80,220.16 L68.35,220.22 L68.90,220.00 L69.45,219.96 L70.00,220.22 L70.55,219.60 L71.10,219.54 L71.65,219.94 L72.20,219.55 L72.75,219.67 L73.30,219.49 L73.85,220.05 L74.40,219.73 L74.95,220.32 L75.50,220.49 L76.05,219.89 L76.60,219.42 L77.15,219.05 L77.70,219.40 L78.25,219.21 L78.80,219.71 L79.35,220.24 L79.90,219.96 L80.45,220.25 L81.00,219.72 L81.55,219.58 L82.10,219.31 L82.65,220.06 L83.20,220.42 L83.75,219.84 L84.30,219.96 L84.85,220.06 L85.40,220.19 L85.95,219.74 L86.50,219.45 L87.05,219.70 L87.60,219.57 L88.15,219.62 L88.70,219.94 L89.25,219.37 L89.80,219.20 L90.35,219.42 L90.90,220.35 L91.45,219.87 L92.00,219.87 L92.55,220.27 L93.10,219.71 L93.65,219.33 L94.20,219.52 L94.75,219.20 L95.30,219.61 L95.85,219.97 L96.40,219.73 L96.95,219.26 L97.50,218.97 L98.05,218.80 L98.60,218.77 L99.15,219.46 L99.70,218.96 L100.25,219.45 L100.80,219.30 L101.35,219.29 L101.90,219.35 L102.45,219.63 L103.00,219.86 L103.55,219.64 L104.10,219.82 L104.65,220.40 L105.20,219.97 L105.75,220.31 L106.30,220.38 L106.85,220.19 L107.40,219.46 L107.95,218.98 L108.50,219.49 L109.05,220.21 L109.60,220.11 L110.15,219.75 L110.70,219.48 L111.25,219.95 L111.80,219.23 L112.35,219.72 L112.90,220.20 L113.45,219.94 L114.00,220.26 L114.55,219.57 L115.10,219.23 L115.65,220.30 L116.20,220.06 L116.75,219.50 L117.30,219.91 L117.85,220.32 L118.40,219.88 L118.95,219.47 L119.50,219.22 L120.05,219.64 L120.60,220.28 L121.15,219.65 L121.70,219.89 L122.25,219.25 L122.80,219.13 L123.35,219.46 L123.90,219.81 L124.45,219.13 L125.00,219.83 L125.55,220.15 L126.10,220.09 L126.65,220.38 L127.20,220.27 L127.75,219.50 L128.30,219.20 L128.85,219.26 L129.40,219.25 L129.95,219.63 L130.50,219.53 L131.05,219.35 L131.60,219.25 L132.15,219.37 L132.70,219.11 L133.25,219.38 L133.80,219.19 L134.35,219.89 L134.90,219.17 L135.45,220.17 L136.00,219.56 L136.55,220.12 L137.10,220.39 L137.65,219.54 L138.20,219.35 L138.75,219.43 L139.30,220.11 L139.85,219.50 L140.40,220.22 L140.95,219.73 L141.50,219.73 L142.05,219.83 L142.60,219.20 L143.15,219.38 L143.70,219.22 L144.25,219.35 L144.80,219.64 L145.35,219.99 L145.90,220.20 L146.45,219.94 L147.00,219.33 L147.55,219.71 L148.10,219.45 L148.65,219.71 L149.20,219.64 L149.75,219.27 L150.30,220.04 L150.85,220.17 L151.40,219.35 L151.95,219.01 L152.50,218.97 L153.05,219.97 L153.60,219.68 L154.15,219.32 L154.70,219.42 L155.25,219.65 L155.80,219.96 L156.35,219.50 L156.90,220.05 L157.45,220.34 L158.00,219.92 L158.55,219.92 L159.10,219.45 L159.65,219.22 L160.20,219.49 L160.75,220.14 L161.30,219.81 L161.85,219.94 L162.40,219.14 L162.95,219.94 L163.50,220.02 L164.05,219.83 L164.60,219.74 L165.15,219.45 L165.70,219.46 L166.25,220.03 L166.80,219.57 L167.35,219.43" fill="none" stroke="#3e5b98" stroke-width="1.5" stroke-linejoin="round"/>
<path d="M67.80,220.14 L68.35,220.20 L68.90,219.94 L69.45,219.94 L70.00,220.16 L70.55,219.55 L71.10,219.55 L71.65,219.96 L72.20,219.33 L72.75,219.80 L73.30,219.67 L73.85,219.94 L74.40,219.67 L74.95,220.15 L75.50,220.56 L76.05,219.86 L76.60,219.72 L77.15,219.32 L77.70,219.43 L78.25,219.12 L78.80,219.62 L79.35,220.31 L79.90,219.62 L80.45,219.96 L81.00,219.78 L81.55,219.40 L82.10,219.46 L82.65,219.96 L83.20,220.36 L83.75,219.91 L84.30,220.00 L84.85,219.95 L85.40,220.31 L85.95,219.79 L86.50,219.53 L87.05,219.95 L87.60,219.79 L88.15,219.71 L88.70,220.17 L89.25,219.61 L89.80,219.48 L90.35,219.51 L90.90,220.19 L91.45,219.75 L92.00,219.65 L92.55,220.19 L93.10,219.81 L93.65,219.21 L94.20,219.19 L94.75,219.22 L95.30,219.65 L95.85,219.91 L96.40,219.85 L96.95,219.35 L97.50,218.94 L98.05,219.00 L98.60,219.08 L99.15,219.44 L99.70,219.03 L100.25,219.26 L100.80,219.44 L101.35,219.13 L101.90,219.00 L102.45,219.51 L103.00,220.05 L103.55,219.37 L104.10,219.49 L104.65,220.14 L105.20,220.15 L105.75,220.48 L106.30,220.41 L106.85,220.21 L107.40,219.56 L107.95,219.20 L108.50,219.63 L109.05,220.30 L109.60,220.06 L110.15,219.78 L110.70,219.43 L111.25,220.06 L111.80,219.22 L112.35,219.83 L112.90,220.15 L113.45,220.01 L114.00,220.48 L114.55,219.60 L115.10,219.24 L115.65,220.16 L116.20,219.91 L116.75,219.77 L117.30,220.14 L117.85,220.52 L118.40,220.09 L118.95,219.68 L119.50,219.53 L120.05,220.05 L120.60,220.41 L121.15,219.85 L121.70,219.81 L122.25,219.28 L122.80,219.37 L123.35,219.67 L123.90,219.80 L124.45,219.14 L125.00,219.83 L125.55,220.33 L126.10,220.47 L126.65,220.64 L127.20,220.26 L127.75,219.43 L128.30,218.49 L128.85,217.39 L129.40,214.94 L129.95,211.83 L130.50,207.72 L131.05,203.17 L131.60,198.60 L132.15,196.26 L132.70,195.95 L133.25,198.12 L133.80,201.88 L134.35,206.93 L134.90,210.57 L135.45,214.94 L136.00,216.91 L136.55,218.76 L137.10,219.98 L137.65,219.46 L138.20,219.16 L138.75,219.53 L139.30,219.92 L139.85,219.29 L140.40,220.11 L140.95,219.89 L141.50,219.62 L142.05,220.02 L142.60,219.42 L143.15,219.34 L143.70,219.25 L144.25,219.38 L144.80,219.45 L145.35,219.68 L145.90,219.93 L146.45,219.71 L147.00,219.24 L147.55,219.49 L148.10,219.32 L148.65,219.46 L149.20,219.70 L149.75,219.61 L150.30,220.26 L150.85,220.02 L151.40,219.55 L151.95,219.33 L152.50,219.12 L153.05,219.87 L153.60,219.45 L154.15,219.18 L154.70,219.46 L155.25,219.52 L155.80,219.98 L156.35,219.78 L156.90,220.18 L157.45,220.49 L158.00,220.10 L158.55,219.89 L159.10,219.31 L159.65,219.14 L160.20,219.41 L160.75,219.83 L161.30,219.42 L161.85,219.50 L162.40,218.95 L162.95,219.88 L163.50,220.02 L164.05,219.77 L164.60,219.84 L165.15,219.48 L165.70,219.66 L166.25,220.25 L166.80,219.94 L167.35,219.41" fill="none" stroke="#4d2f6e" stroke-width="1.4" stroke-linejoin="round"/>
<line x1="64.20" y1="219.80" x2="67.0" y2="219.80" stroke="#1e1e1e" stroke-width="1"/>
<text x="61.00" y="222.10" font-size="6.5" text-anchor="end" fill="#2b2b2b" stroke="#2b2b2b" stroke-width="0.22" >0</text>
<line x1="64.20" y1="198.00" x2="67.0" y2="198.00" stroke="#1e1e1e" stroke-width="1"/>
<text x="61.00" y="200.30" font-size="6.5" text-anchor="end" fill="#2b2b2b" stroke="#2b2b2b" stroke-width="0.22" textLength="15.6" lengthAdjust="spacingAndGlyphs" >1,000</text>
<line x1="64.20" y1="176.20" x2="67.0" y2="176.20" stroke="#1e1e1e" stroke-width="1"/>
<text x="61.00" y="178.50" font-size="6.5" text-anchor="end" fill="#2b2b2b" stroke="#2b2b2b" stroke-width="0.22" textLength="15.6" lengthAdjust="spacingAndGlyphs" >2,000</text>
<line x1="64.20" y1="154.40" x2="67.0" y2="154.40" stroke="#1e1e1e" stroke-width="1"/>
<text x="61.00" y="156.70" font-size="6.5" text-anchor="end" fill="#2b2b2b" stroke="#2b2b2b" stroke-width="0.22" textLength="15.6" lengthAdjust="spacingAndGlyphs" >3,000</text>
<line x1="67.0" y1="226.0" x2="67.0" y2="228.8" stroke="#1e1e1e" stroke-width="1"/>
<text x="67.00" y="237.90" font-size="6.6" text-anchor="middle" fill="#2b2b2b" stroke="#2b2b2b" stroke-width="0.22" textLength="6.4" lengthAdjust="spacingAndGlyphs" >12</text>
<line x1="113.1" y1="226.0" x2="113.1" y2="228.8" stroke="#1e1e1e" stroke-width="1"/>
<text x="113.10" y="237.90" font-size="6.6" text-anchor="middle" fill="#2b2b2b" stroke="#2b2b2b" stroke-width="0.22" textLength="6.6" lengthAdjust="spacingAndGlyphs" >40</text>
<line x1="140.1" y1="226.0" x2="140.1" y2="228.8" stroke="#1e1e1e" stroke-width="1"/>
<text x="140.10" y="237.90" font-size="6.6" text-anchor="middle" fill="#2b2b2b" stroke="#2b2b2b" stroke-width="0.22" textLength="6.6" lengthAdjust="spacingAndGlyphs" >66</text>
<line x1="157.6" y1="226.0" x2="157.6" y2="228.8" stroke="#1e1e1e" stroke-width="1"/>
<text x="157.60" y="237.90" font-size="6.6" text-anchor="middle" fill="#2b2b2b" stroke="#2b2b2b" stroke-width="0.22" textLength="9.6" lengthAdjust="spacingAndGlyphs" >116</text>
<text x="117.90" y="247.90" font-size="7.0" text-anchor="middle" fill="#2b2b2b" stroke="#2b2b2b" stroke-width="0.22" textLength="60" lengthAdjust="spacingAndGlyphs" >Molecular weight (kDa)</text>
<text x="29.20" y="200.50" font-size="7.3" text-anchor="start" fill="#2b2b2b" stroke="#2b2b2b" stroke-width="0.22" textLength="38.0" lengthAdjust="spacingAndGlyphs" transform="rotate(-90 29.20 200.50)" >Lyn p-Tyr507</text>
<text x="40.90" y="209.60" font-size="7.3" text-anchor="start" fill="#2b2b2b" stroke="#2b2b2b" stroke-width="0.22" textLength="58.0" lengthAdjust="spacingAndGlyphs" transform="rotate(-90 40.90 209.60)" >chemiluminescence</text>
<line x1="70.5" y1="141.40" x2="82.9" y2="141.40" stroke="#4d2f6e" stroke-width="1.3" opacity="0.9"/>
<text x="85.80" y="143.50" font-size="5.9" text-anchor="start" fill="#2b2b2b" stroke="#2b2b2b" stroke-width="0.22" textLength="7.7" lengthAdjust="spacingAndGlyphs" >WT</text>
<line x1="70.5" y1="150.35" x2="82.9" y2="150.35" stroke="#3e5b98" stroke-width="1.3" opacity="0.9"/>
<text x="85.80" y="152.45" font-size="5.9" text-anchor="start" fill="#2b2b2b" stroke="#2b2b2b" stroke-width="0.22" textLength="17.3" lengthAdjust="spacingAndGlyphs" >Csk KO</text>
<line x1="70.5" y1="159.30" x2="82.9" y2="159.30" stroke="#a3223f" stroke-width="1.3" opacity="0.9"/>
<text x="85.80" y="161.40" font-size="5.9" text-anchor="start" fill="#2b2b2b" stroke="#2b2b2b" stroke-width="0.22" textLength="25.5" lengthAdjust="spacingAndGlyphs" >CD148 KO</text>
<line x1="70.5" y1="168.25" x2="82.9" y2="168.25" stroke="#7cbd52" stroke-width="1.3" opacity="0.9"/>
<text x="85.80" y="170.35" font-size="5.9" text-anchor="start" fill="#2b2b2b" stroke="#2b2b2b" stroke-width="0.22" textLength="11" lengthAdjust="spacingAndGlyphs" >DKO</text>
<rect x="67.0" y="262.4" width="101.30" height="91.10" fill="none" stroke="#1e1e1e" stroke-width="1.3"/>
<path d="M67.80,347.37 L68.35,347.52 L68.90,347.64 L69.45,347.71 L70.00,347.38 L70.55,347.37 L71.10,347.12 L71.65,347.47 L72.20,347.99 L72.75,348.26 L73.30,347.67 L73.85,347.66 L74.40,347.64 L74.95,347.25 L75.50,347.96 L76.05,348.01 L76.60,347.82 L77.15,347.95 L77.70,348.21 L78.25,348.02 L78.80,347.52 L79.35,348.10 L79.90,348.59 L80.45,347.72 L81.00,347.76 L81.55,347.76 L82.10,347.82 L82.65,348.38 L83.20,348.22 L83.75,348.07 L84.30,348.21 L84.85,347.50 L85.40,347.33 L85.95,347.35 L86.50,347.33 L87.05,347.40 L87.60,347.93 L88.15,347.93 L88.70,347.79 L89.25,348.11 L89.80,348.27 L90.35,347.27 L90.90,347.90 L91.45,347.20 L92.00,347.01 L92.55,347.64 L93.10,347.61 L93.65,347.61 L94.20,346.88 L94.75,347.19 L95.30,347.63 L95.85,347.51 L96.40,347.63 L96.95,347.76 L97.50,347.66 L98.05,348.07 L98.60,347.64 L99.15,347.14 L99.70,347.96 L100.25,348.10 L100.80,347.67 L101.35,347.48 L101.90,347.99 L102.45,348.37 L103.00,348.17 L103.55,347.66 L104.10,348.08 L104.65,348.09 L105.20,348.15 L105.75,348.42 L106.30,348.58 L106.85,347.62 L107.40,347.45 L107.95,347.49 L108.50,347.72 L109.05,348.16 L109.60,348.29 L110.15,348.40 L110.70,348.45 L111.25,347.44 L111.80,347.20 L112.35,347.70 L112.90,347.49 L113.45,347.27 L114.00,348.15 L114.55,347.85 L115.10,347.48 L115.65,347.18 L116.20,347.63 L116.75,348.13 L117.30,347.19 L117.85,347.17 L118.40,347.15 L118.95,347.26 L119.50,348.08 L120.05,347.85 L120.60,347.32 L121.15,347.45 L121.70,347.40 L122.25,347.51 L122.80,347.27 L123.35,347.07 L123.90,346.99 L124.45,346.82 L125.00,347.72 L125.55,346.90 L126.10,345.42 L126.65,344.29 L127.20,342.59 L127.75,342.45 L128.30,343.75 L128.85,345.29 L129.40,346.07 L129.95,347.21 L130.50,347.58 L131.05,347.06 L131.60,345.23 L132.15,342.70 L132.70,337.82 L133.25,330.84 L133.80,323.97 L134.35,316.78 L134.90,313.03 L135.45,314.04 L136.00,318.41 L136.55,325.38 L137.10,333.05 L137.65,338.52 L138.20,342.60 L138.75,345.76 L139.30,347.26 L139.85,347.92 L140.40,347.39 L140.95,347.25 L141.50,347.87 L142.05,347.65 L142.60,347.26 L143.15,347.24 L143.70,347.55 L144.25,348.13 L144.80,347.54 L145.35,347.72 L145.90,348.07 L146.45,348.41 L147.00,347.99 L147.55,347.30 L148.10,347.73 L148.65,347.46 L149.20,347.40 L149.75,348.08 L150.30,348.13 L150.85,348.06 L151.40,348.27 L151.95,348.47 L152.50,348.54 L153.05,348.06 L153.60,347.75 L154.15,347.87 L154.70,347.91 L155.25,347.43 L155.80,347.97 L156.35,347.39 L156.90,347.90 L157.45,347.61 L158.00,347.89 L158.55,347.20 L159.10,347.43 L159.65,347.13 L160.20,347.75 L160.75,347.91 L161.30,347.61 L161.85,347.33 L162.40,347.29 L162.95,346.94 L163.50,346.65 L164.05,347.80 L164.60,347.60 L165.15,347.13 L165.70,347.89 L166.25,347.83 L166.80,347.47 L167.35,347.97" fill="none" stroke="#7cbd52" stroke-width="1.5" stroke-linejoin="round"/>
<path d="M67.80,347.49 L68.35,347.48 L68.90,347.49 L69.45,347.51 L70.00,347.49 L70.55,347.36 L71.10,346.90 L71.65,347.48 L72.20,348.15 L72.75,348.17 L73.30,347.70 L73.85,347.47 L74.40,347.50 L74.95,347.38 L75.50,348.10 L76.05,348.11 L76.60,347.77 L77.15,347.82 L77.70,348.29 L78.25,348.08 L78.80,347.48 L79.35,348.15 L79.90,348.63 L80.45,347.83 L81.00,347.54 L81.55,347.71 L82.10,347.77 L82.65,348.18 L83.20,348.16 L83.75,347.78 L84.30,348.18 L84.85,347.57 L85.40,347.19 L85.95,347.19 L86.50,346.96 L87.05,347.11 L87.60,348.05 L88.15,348.01 L88.70,347.95 L89.25,348.01 L89.80,347.89 L90.35,347.35 L90.90,347.79 L91.45,347.15 L92.00,347.17 L92.55,347.88 L93.10,347.71 L93.65,347.58 L94.20,347.05 L94.75,347.30 L95.30,347.91 L95.85,347.27 L96.40,347.49 L96.95,347.98 L97.50,347.93 L98.05,348.10 L98.60,347.57 L99.15,347.08 L99.70,347.70 L100.25,348.18 L100.80,347.56 L101.35,347.22 L101.90,347.76 L102.45,348.21 L103.00,348.23 L103.55,347.69 L104.10,347.85 L104.65,348.34 L105.20,348.07 L105.75,348.30 L106.30,348.64 L106.85,347.74 L107.40,347.40 L107.95,347.45 L108.50,347.48 L109.05,348.19 L109.60,348.46 L110.15,348.28 L110.70,348.40 L111.25,347.63 L111.80,347.25 L112.35,347.56 L112.90,347.49 L113.45,347.01 L114.00,348.06 L114.55,347.80 L115.10,347.45 L115.65,347.07 L116.20,347.52 L116.75,348.22 L117.30,347.23 L117.85,347.23 L118.40,347.09 L118.95,347.32 L119.50,348.01 L120.05,347.83 L120.60,347.18 L121.15,347.29 L121.70,347.37 L122.25,347.37 L122.80,347.26 L123.35,347.15 L123.90,346.90 L124.45,346.95 L125.00,347.90 L125.55,347.06 L126.10,345.09 L126.65,343.35 L127.20,341.01 L127.75,340.82 L128.30,342.31 L128.85,344.35 L129.40,345.92 L129.95,347.12 L130.50,347.38 L131.05,346.70 L131.60,343.40 L132.15,338.29 L132.70,328.60 L133.25,314.01 L133.80,297.61 L134.35,281.75 L134.90,273.47 L135.45,275.36 L136.00,286.06 L136.55,302.06 L137.10,318.56 L137.65,331.24 L138.20,339.44 L138.75,344.65 L139.30,347.05 L139.85,347.94 L140.40,347.59 L140.95,347.52 L141.50,347.95 L142.05,347.72 L142.60,347.45 L143.15,347.52 L143.70,347.77 L144.25,348.26 L144.80,347.98 L145.35,347.91 L145.90,348.35 L146.45,348.34 L147.00,347.83 L147.55,347.28 L148.10,347.89 L148.65,347.70 L149.20,347.25 L149.75,347.77 L150.30,348.32 L150.85,348.00 L151.40,348.15 L151.95,348.55 L152.50,348.41 L153.05,348.18 L153.60,347.62 L154.15,347.93 L154.70,347.90 L155.25,347.18 L155.80,348.03 L156.35,347.62 L156.90,348.06 L157.45,347.75 L158.00,347.84 L158.55,347.29 L159.10,347.56 L159.65,347.21 L160.20,347.80 L160.75,348.06 L161.30,347.80 L161.85,347.53 L162.40,347.34 L162.95,347.22 L163.50,347.07 L164.05,347.74 L164.60,347.78 L165.15,347.08 L165.70,347.87 L166.25,347.70 L166.80,347.45 L167.35,348.09" fill="none" stroke="#a3223f" stroke-width="1.5" stroke-linejoin="round"/>
<path d="M67.80,347.37 L68.35,347.52 L68.90,347.64 L69.45,347.71 L70.00,347.38 L70.55,347.37 L71.10,347.12 L71.65,347.47 L72.20,347.99 L72.75,348.26 L73.30,347.67 L73.85,347.66 L74.40,347.64 L74.95,347.25 L75.50,347.96 L76.05,348.01 L76.60,347.82 L77.15,347.95 L77.70,348.21 L78.25,348.02 L78.80,347.52 L79.35,348.10 L79.90,348.59 L80.45,347.72 L81.00,347.76 L81.55,347.76 L82.10,347.82 L82.65,348.38 L83.20,348.22 L83.75,348.07 L84.30,348.21 L84.85,347.50 L85.40,347.33 L85.95,347.35 L86.50,347.33 L87.05,347.40 L87.60,347.93 L88.15,347.93 L88.70,347.79 L89.25,348.11 L89.80,348.27 L90.35,347.27 L90.90,347.90 L91.45,347.20 L92.00,347.01 L92.55,347.64 L93.10,347.61 L93.65,347.61 L94.20,346.88 L94.75,347.19 L95.30,347.63 L95.85,347.51 L96.40,347.63 L96.95,347.76 L97.50,347.66 L98.05,348.07 L98.60,347.64 L99.15,347.14 L99.70,347.96 L100.25,348.10 L100.80,347.67 L101.35,347.48 L101.90,347.99 L102.45,348.37 L103.00,348.17 L103.55,347.66 L104.10,348.08 L104.65,348.09 L105.20,348.15 L105.75,348.42 L106.30,348.58 L106.85,347.62 L107.40,347.45 L107.95,347.49 L108.50,347.72 L109.05,348.16 L109.60,348.29 L110.15,348.40 L110.70,348.45 L111.25,347.44 L111.80,347.20 L112.35,347.70 L112.90,347.49 L113.45,347.27 L114.00,348.15 L114.55,347.85 L115.10,347.48 L115.65,347.18 L116.20,347.63 L116.75,348.13 L117.30,347.19 L117.85,347.17 L118.40,347.15 L118.95,347.26 L119.50,348.08 L120.05,347.85 L120.60,347.32 L121.15,347.45 L121.70,347.40 L122.25,347.51 L122.80,347.27 L123.35,347.07 L123.90,347.00 L124.45,346.83 L125.00,347.75 L125.55,347.02 L126.10,345.74 L126.65,344.92 L127.20,343.50 L127.75,343.40 L128.30,344.44 L128.85,345.55 L129.40,345.88 L129.95,346.60 L130.50,346.58 L131.05,345.87 L131.60,344.46 L132.15,343.64 L132.70,342.48 L133.25,341.45 L133.80,342.01 L134.35,341.92 L134.90,342.64 L135.45,343.98 L136.00,344.57 L136.55,345.22 L137.10,346.11 L137.65,346.00 L138.20,346.32 L138.75,347.37 L139.30,347.87 L139.85,348.12 L140.40,347.44 L140.95,347.27 L141.50,347.87 L142.05,347.65 L142.60,347.26 L143.15,347.24 L143.70,347.55 L144.25,348.13 L144.80,347.54 L145.35,347.72 L145.90,348.07 L146.45,348.41 L147.00,347.99 L147.55,347.30 L148.10,347.73 L148.65,347.46 L149.20,347.40 L149.75,348.08 L150.30,348.13 L150.85,348.06 L151.40,348.27 L151.95,348.47 L152.50,348.54 L153.05,348.06 L153.60,347.75 L154.15,347.87 L154.70,347.91 L155.25,347.43 L155.80,347.97 L156.35,347.39 L156.90,347.90 L157.45,347.61 L158.00,347.89 L158.55,347.20 L159.10,347.43 L159.65,347.13 L160.20,347.75 L160.75,347.91 L161.30,347.61 L161.85,347.33 L162.40,347.29 L162.95,346.94 L163.50,346.65 L164.05,347.80 L164.60,347.60 L165.15,347.13 L165.70,347.89 L166.25,347.83 L166.80,347.47 L167.35,347.97" fill="none" stroke="#3e5b98" stroke-width="1.5" stroke-linejoin="round"/>
<path d="M67.80,347.65 L68.35,347.75 L68.90,347.71 L69.45,347.45 L70.00,347.42 L70.55,347.07 L71.10,346.87 L71.65,347.58 L72.20,348.29 L72.75,348.17 L73.30,347.58 L73.85,347.33 L74.40,347.78 L74.95,347.30 L75.50,347.93 L76.05,348.18 L76.60,347.94 L77.15,347.94 L77.70,348.43 L78.25,348.03 L78.80,347.37 L79.35,347.81 L79.90,348.22 L80.45,347.61 L81.00,347.64 L81.55,347.50 L82.10,347.95 L82.65,348.43 L83.20,348.33 L83.75,347.91 L84.30,348.25 L84.85,347.77 L85.40,347.32 L85.95,347.45 L86.50,347.12 L87.05,347.24 L87.60,347.84 L88.15,347.63 L88.70,347.75 L89.25,348.13 L89.80,348.26 L90.35,347.24 L90.90,347.59 L91.45,346.92 L92.00,346.71 L92.55,347.67 L93.10,347.91 L93.65,348.00 L94.20,347.23 L94.75,347.44 L95.30,347.75 L95.85,347.43 L96.40,347.64 L96.95,348.04 L97.50,348.02 L98.05,348.10 L98.60,347.78 L99.15,346.97 L99.70,347.86 L100.25,348.23 L100.80,347.56 L101.35,347.10 L101.90,347.58 L102.45,347.98 L103.00,348.15 L103.55,347.74 L104.10,348.14 L104.65,348.43 L105.20,348.07 L105.75,348.39 L106.30,348.63 L106.85,347.75 L107.40,347.45 L107.95,347.17 L108.50,347.60 L109.05,348.12 L109.60,348.38 L110.15,348.31 L110.70,348.50 L111.25,347.60 L111.80,347.24 L112.35,347.71 L112.90,347.41 L113.45,347.05 L114.00,347.95 L114.55,347.92 L115.10,347.64 L115.65,347.17 L116.20,347.68 L116.75,348.17 L117.30,347.49 L117.85,347.15 L118.40,347.21 L118.95,347.32 L119.50,348.11 L120.05,347.81 L120.60,347.30 L121.15,347.49 L121.70,347.41 L122.25,347.28 L122.80,347.31 L123.35,347.19 L123.90,346.89 L124.45,347.00 L125.00,347.58 L125.55,346.51 L126.10,344.70 L126.65,343.07 L127.20,340.63 L127.75,340.53 L128.30,342.20 L128.85,344.16 L129.40,345.72 L129.95,347.16 L130.50,347.13 L131.05,346.53 L131.60,344.20 L132.15,340.17 L132.70,333.18 L133.25,322.69 L133.80,311.62 L134.35,300.64 L134.90,295.23 L135.45,296.35 L136.00,303.48 L136.55,314.15 L137.10,325.31 L137.65,334.41 L138.20,340.52 L138.75,344.93 L139.30,347.27 L139.85,348.34 L140.40,347.40 L140.95,347.21 L141.50,347.88 L142.05,347.54 L142.60,347.57 L143.15,347.43 L143.70,347.61 L144.25,347.99 L144.80,347.56 L145.35,347.80 L145.90,348.18 L146.45,348.45 L147.00,347.84 L147.55,347.04 L148.10,347.80 L148.65,347.69 L149.20,347.41 L149.75,348.08 L150.30,348.25 L150.85,347.91 L151.40,348.36 L151.95,348.62 L152.50,348.50 L153.05,348.20 L153.60,347.75 L154.15,347.94 L154.70,347.87 L155.25,347.36 L155.80,348.10 L156.35,347.55 L156.90,348.25 L157.45,347.49 L158.00,347.50 L158.55,347.13 L159.10,347.46 L159.65,347.39 L160.20,347.82 L160.75,347.93 L161.30,347.62 L161.85,347.19 L162.40,347.12 L162.95,347.01 L163.50,346.70 L164.05,347.81 L164.60,347.78 L165.15,347.09 L165.70,347.64 L166.25,347.55 L166.80,347.42 L167.35,347.98" fill="none" stroke="#3b2f48" stroke-width="1.6" stroke-linejoin="round"/>
<line x1="64.20" y1="347.70" x2="67.0" y2="347.70" stroke="#1e1e1e" stroke-width="1"/>
<text x="61.00" y="350.00" font-size="6.5" text-anchor="end" fill="#2b2b2b" stroke="#2b2b2b" stroke-width="0.22" >0</text>
<line x1="64.20" y1="331.64" x2="67.0" y2="331.64" stroke="#1e1e1e" stroke-width="1"/>
<text x="61.00" y="333.94" font-size="6.5" text-anchor="end" fill="#2b2b2b" stroke="#2b2b2b" stroke-width="0.22" textLength="15.6" lengthAdjust="spacingAndGlyphs" >5,000</text>
<line x1="64.20" y1="315.58" x2="67.0" y2="315.58" stroke="#1e1e1e" stroke-width="1"/>
<text x="61.00" y="317.88" font-size="6.5" text-anchor="end" fill="#2b2b2b" stroke="#2b2b2b" stroke-width="0.22" textLength="19.0" lengthAdjust="spacingAndGlyphs" >10,000</text>
<line x1="64.20" y1="299.52" x2="67.0" y2="299.52" stroke="#1e1e1e" stroke-width="1"/>
<text x="61.00" y="301.82" font-size="6.5" text-anchor="end" fill="#2b2b2b" stroke="#2b2b2b" stroke-width="0.22" textLength="19.0" lengthAdjust="spacingAndGlyphs" >15,000</text>
<line x1="64.20" y1="283.46" x2="67.0" y2="283.46" stroke="#1e1e1e" stroke-width="1"/>
<text x="61.00" y="285.76" font-size="6.5" text-anchor="end" fill="#2b2b2b" stroke="#2b2b2b" stroke-width="0.22" textLength="19.0" lengthAdjust="spacingAndGlyphs" >20,000</text>
<line x1="64.20" y1="267.40" x2="67.0" y2="267.40" stroke="#1e1e1e" stroke-width="1"/>
<text x="61.00" y="269.70" font-size="6.5" text-anchor="end" fill="#2b2b2b" stroke="#2b2b2b" stroke-width="0.22" textLength="19.0" lengthAdjust="spacingAndGlyphs" >25,000</text>
<line x1="67.0" y1="353.5" x2="67.0" y2="356.3" stroke="#1e1e1e" stroke-width="1"/>
<text x="67.00" y="365.40" font-size="6.6" text-anchor="middle" fill="#2b2b2b" stroke="#2b2b2b" stroke-width="0.22" textLength="6.4" lengthAdjust="spacingAndGlyphs" >12</text>
<line x1="113.1" y1="353.5" x2="113.1" y2="356.3" stroke="#1e1e1e" stroke-width="1"/>
<text x="113.10" y="365.40" font-size="6.6" text-anchor="middle" fill="#2b2b2b" stroke="#2b2b2b" stroke-width="0.22" textLength="6.6" lengthAdjust="spacingAndGlyphs" >40</text>
<line x1="140.1" y1="353.5" x2="140.1" y2="356.3" stroke="#1e1e1e" stroke-width="1"/>
<text x="140.10" y="365.40" font-size="6.6" text-anchor="middle" fill="#2b2b2b" stroke="#2b2b2b" stroke-width="0.22" textLength="6.6" lengthAdjust="spacingAndGlyphs" >66</text>
<line x1="157.6" y1="353.5" x2="157.6" y2="356.3" stroke="#1e1e1e" stroke-width="1"/>
<text x="157.60" y="365.40" font-size="6.6" text-anchor="middle" fill="#2b2b2b" stroke="#2b2b2b" stroke-width="0.22" textLength="9.6" lengthAdjust="spacingAndGlyphs" >116</text>
<text x="117.90" y="375.40" font-size="7.0" text-anchor="middle" fill="#2b2b2b" stroke="#2b2b2b" stroke-width="0.22" textLength="60" lengthAdjust="spacingAndGlyphs" >Molecular weight (kDa)</text>
<text x="25.20" y="326.50" font-size="7.3" text-anchor="start" fill="#2b2b2b" stroke="#2b2b2b" stroke-width="0.22" textLength="36.0" lengthAdjust="spacingAndGlyphs" transform="rotate(-90 25.20 326.50)" >Src p-Tyr529</text>
<text x="36.90" y="336.80" font-size="7.3" text-anchor="start" fill="#2b2b2b" stroke="#2b2b2b" stroke-width="0.22" textLength="58.0" lengthAdjust="spacingAndGlyphs" transform="rotate(-90 36.90 336.80)" >chemiluminescence</text>
<line x1="70.5" y1="268.00" x2="82.9" y2="268.00" stroke="#3b2f48" stroke-width="1.3" opacity="0.9"/>
<text x="85.80" y="270.10" font-size="5.9" text-anchor="start" fill="#2b2b2b" stroke="#2b2b2b" stroke-width="0.22" textLength="7.7" lengthAdjust="spacingAndGlyphs" >WT</text>
<line x1="70.5" y1="276.95" x2="82.9" y2="276.95" stroke="#3e5b98" stroke-width="1.3" opacity="0.9"/>
<text x="85.80" y="279.05" font-size="5.9" text-anchor="start" fill="#2b2b2b" stroke="#2b2b2b" stroke-width="0.22" textLength="17.3" lengthAdjust="spacingAndGlyphs" >Csk KO</text>
<line x1="70.5" y1="285.90" x2="82.9" y2="285.90" stroke="#a3223f" stroke-width="1.3" opacity="0.9"/>
<text x="85.80" y="288.00" font-size="5.9" text-anchor="start" fill="#2b2b2b" stroke="#2b2b2b" stroke-width="0.22" textLength="25.5" lengthAdjust="spacingAndGlyphs" >CD148 KO</text>
<line x1="70.5" y1="294.85" x2="82.9" y2="294.85" stroke="#7cbd52" stroke-width="1.3" opacity="0.9"/>
<text x="85.80" y="296.95" font-size="5.9" text-anchor="start" fill="#2b2b2b" stroke="#2b2b2b" stroke-width="0.22" textLength="11" lengthAdjust="spacingAndGlyphs" >DKO</text>
<rect x="67.0" y="388.0" width="101.30" height="90.10" fill="none" stroke="#1e1e1e" stroke-width="1.3"/>
<path d="M67.80,470.36 L68.35,468.25 L68.90,467.54 L69.45,469.28 L70.00,466.79 L70.55,465.46 L71.10,465.80 L71.65,465.95 L72.20,466.25 L72.75,468.52 L73.30,467.92 L73.85,466.11 L74.40,467.00 L74.95,468.72 L75.50,467.86 L76.05,468.55 L76.60,467.71 L77.15,470.39 L77.70,468.46 L78.25,468.76 L78.80,468.26 L79.35,467.26 L79.90,466.02 L80.45,465.79 L81.00,466.40 L81.55,466.97 L82.10,465.76 L82.65,467.23 L83.20,465.08 L83.75,469.02 L84.30,469.60 L84.85,468.21 L85.40,466.43 L85.95,466.98 L86.50,469.04 L87.05,467.86 L87.60,468.11 L88.15,467.70 L88.70,465.78 L89.25,465.17 L89.80,464.37 L90.35,463.24 L90.90,464.55 L91.45,466.27 L92.00,468.28 L92.55,467.52 L93.10,467.17 L93.65,467.38 L94.20,469.51 L94.75,468.14 L95.30,467.03 L95.85,467.36 L96.40,467.90 L96.95,467.63 L97.50,466.42 L98.05,465.87 L98.60,467.52 L99.15,467.30 L99.70,466.82 L100.25,464.85 L100.80,464.68 L101.35,468.90 L101.90,466.85 L102.45,465.52 L103.00,463.85 L103.55,464.34 L104.10,467.49 L104.65,467.24 L105.20,464.64 L105.75,464.63 L106.30,465.70 L106.85,464.66 L107.40,467.07 L107.95,469.84 L108.50,469.33 L109.05,468.12 L109.60,468.00 L110.15,467.42 L110.70,468.73 L111.25,468.96 L111.80,466.72 L112.35,467.93 L112.90,465.24 L113.45,465.17 L114.00,468.30 L114.55,468.92 L115.10,466.97 L115.65,466.15 L116.20,466.50 L116.75,466.78 L117.30,468.44 L117.85,466.03 L118.40,466.79 L118.95,467.53 L119.50,467.41 L120.05,470.18 L120.60,469.36 L121.15,469.28 L121.70,471.70 L122.25,467.56 L122.80,468.68 L123.35,467.27 L123.90,467.09 L124.45,466.27 L125.00,464.83 L125.55,465.47 L126.10,468.35 L126.65,469.33 L127.20,469.09 L127.75,468.75 L128.30,468.69 L128.85,470.46 L129.40,468.19 L129.95,468.23 L130.50,466.49 L131.05,465.88 L131.60,467.19 L132.15,465.27 L132.70,465.77 L133.25,465.95 L133.80,463.86 L134.35,460.54 L134.90,462.68 L135.45,463.03 L136.00,461.71 L136.55,461.91 L137.10,466.58 L137.65,465.72 L138.20,465.08 L138.75,464.63 L139.30,466.72 L139.85,469.28 L140.40,465.67 L140.95,469.10 L141.50,469.59 L142.05,469.38 L142.60,469.51 L143.15,469.81 L143.70,470.58 L144.25,471.81 L144.80,471.27 L145.35,468.28 L145.90,468.24 L146.45,469.64 L147.00,466.46 L147.55,466.18 L148.10,468.08 L148.65,467.95 L149.20,467.20 L149.75,470.05 L150.30,470.25 L150.85,467.53 L151.40,466.77 L151.95,469.17 L152.50,468.42 L153.05,468.06 L153.60,468.09 L154.15,466.29 L154.70,465.13 L155.25,463.88 L155.80,465.17 L156.35,467.56 L156.90,465.99 L157.45,466.22 L158.00,466.69 L158.55,469.26 L159.10,465.91 L159.65,467.80 L160.20,465.13 L160.75,466.03 L161.30,468.01 L161.85,467.04 L162.40,468.69 L162.95,471.02 L163.50,468.68 L164.05,469.28 L164.60,468.23 L165.15,468.74 L165.70,468.22 L166.25,469.45 L166.80,469.14 L167.35,468.98" fill="none" stroke="#7cbd52" stroke-width="1.5" stroke-linejoin="round"/>
<path d="M67.80,468.19 L68.35,466.81 L68.90,468.44 L69.45,468.68 L70.00,467.66 L70.55,466.41 L71.10,465.45 L71.65,466.13 L72.20,467.03 L72.75,467.41 L73.30,467.44 L73.85,466.08 L74.40,467.22 L74.95,467.88 L75.50,467.08 L76.05,467.89 L76.60,466.89 L77.15,468.78 L77.70,470.24 L78.25,467.37 L78.80,467.18 L79.35,466.70 L79.90,467.05 L80.45,466.69 L81.00,465.69 L81.55,466.82 L82.10,466.81 L82.65,468.17 L83.20,468.64 L83.75,470.07 L84.30,469.15 L84.85,468.24 L85.40,465.79 L85.95,465.67 L86.50,466.43 L87.05,467.74 L87.60,469.24 L88.15,465.90 L88.70,466.24 L89.25,466.37 L89.80,465.39 L90.35,466.42 L90.90,466.73 L91.45,468.82 L92.00,470.58 L92.55,467.02 L93.10,467.60 L93.65,468.34 L94.20,468.09 L94.75,464.48 L95.30,467.85 L95.85,467.22 L96.40,467.86 L96.95,468.04 L97.50,465.74 L98.05,468.31 L98.60,469.06 L99.15,467.05 L99.70,465.55 L100.25,465.98 L100.80,468.08 L101.35,468.79 L101.90,468.28 L102.45,467.35 L103.00,465.16 L103.55,465.94 L104.10,469.53 L104.65,468.73 L105.20,467.31 L105.75,467.26 L106.30,468.84 L106.85,465.47 L107.40,465.99 L107.95,467.92 L108.50,468.68 L109.05,468.93 L109.60,466.22 L110.15,468.95 L110.70,466.79 L111.25,468.69 L111.80,466.81 L112.35,468.32 L112.90,468.32 L113.45,466.87 L114.00,467.65 L114.55,468.06 L115.10,466.36 L115.65,466.99 L116.20,465.43 L116.75,465.22 L117.30,465.70 L117.85,465.36 L118.40,467.64 L118.95,467.79 L119.50,465.82 L120.05,468.37 L120.60,470.95 L121.15,470.93 L121.70,470.36 L122.25,468.22 L122.80,468.45 L123.35,466.19 L123.90,468.88 L124.45,468.08 L125.00,467.19 L125.55,465.68 L126.10,465.85 L126.65,467.75 L127.20,466.25 L127.75,468.16 L128.30,470.41 L128.85,470.50 L129.40,466.36 L129.95,466.12 L130.50,463.23 L131.05,461.97 L131.60,462.11 L132.15,452.05 L132.70,440.54 L133.25,427.83 L133.80,412.75 L134.35,399.74 L134.90,397.56 L135.45,396.99 L136.00,407.27 L136.55,419.90 L137.10,435.34 L137.65,446.57 L138.20,453.85 L138.75,459.80 L139.30,464.93 L139.85,467.78 L140.40,466.73 L140.95,467.69 L141.50,468.40 L142.05,469.41 L142.60,468.49 L143.15,468.18 L143.70,469.36 L144.25,469.51 L144.80,470.65 L145.35,468.24 L145.90,467.64 L146.45,467.53 L147.00,467.71 L147.55,465.86 L148.10,465.71 L148.65,466.90 L149.20,466.52 L149.75,467.03 L150.30,468.92 L150.85,468.93 L151.40,468.97 L151.95,467.60 L152.50,468.53 L153.05,468.00 L153.60,467.54 L154.15,465.30 L154.70,465.93 L155.25,466.75 L155.80,467.64 L156.35,468.26 L156.90,466.06 L157.45,468.12 L158.00,465.83 L158.55,468.09 L159.10,468.31 L159.65,468.95 L160.20,466.91 L160.75,466.98 L161.30,468.76 L161.85,466.25 L162.40,468.91 L162.95,468.29 L163.50,469.73 L164.05,467.45 L164.60,467.22 L165.15,468.51 L165.70,469.05 L166.25,467.61 L166.80,469.02 L167.35,467.63" fill="none" stroke="#a3223f" stroke-width="1.5" stroke-linejoin="round"/>
<path d="M67.80,470.36 L68.35,468.25 L68.90,467.54 L69.45,469.28 L70.00,466.79 L70.55,465.46 L71.10,465.80 L71.65,465.95 L72.20,466.25 L72.75,468.52 L73.30,467.92 L73.85,466.11 L74.40,467.00 L74.95,468.72 L75.50,467.86 L76.05,468.55 L76.60,467.71 L77.15,470.39 L77.70,468.46 L78.25,468.76 L78.80,468.26 L79.35,467.26 L79.90,466.02 L80.45,465.79 L81.00,466.40 L81.55,466.97 L82.10,465.76 L82.65,467.23 L83.20,465.08 L83.75,469.02 L84.30,469.60 L84.85,468.21 L85.40,466.43 L85.95,466.98 L86.50,469.04 L87.05,467.86 L87.60,468.11 L88.15,467.70 L88.70,465.78 L89.25,465.17 L89.80,464.37 L90.35,463.24 L90.90,464.55 L91.45,466.27 L92.00,468.28 L92.55,467.52 L93.10,467.17 L93.65,467.38 L94.20,469.51 L94.75,468.14 L95.30,467.03 L95.85,467.36 L96.40,467.90 L96.95,467.63 L97.50,466.42 L98.05,465.87 L98.60,467.52 L99.15,467.30 L99.70,466.82 L100.25,464.85 L100.80,464.68 L101.35,468.90 L101.90,466.85 L102.45,465.52 L103.00,463.85 L103.55,464.34 L104.10,467.49 L104.65,467.24 L105.20,464.64 L105.75,464.63 L106.30,465.70 L106.85,464.66 L107.40,467.07 L107.95,469.84 L108.50,469.33 L109.05,468.12 L109.60,468.00 L110.15,467.42 L110.70,468.73 L111.25,468.96 L111.80,466.72 L112.35,467.93 L112.90,465.24 L113.45,465.17 L114.00,468.30 L114.55,468.92 L115.10,466.97 L115.65,466.15 L116.20,466.50 L116.75,466.78 L117.30,468.44 L117.85,466.03 L118.40,466.79 L118.95,467.53 L119.50,467.41 L120.05,470.18 L120.60,469.36 L121.15,469.28 L121.70,471.70 L122.25,467.56 L122.80,468.68 L123.35,467.27 L123.90,467.09 L124.45,466.27 L125.00,464.83 L125.55,465.47 L126.10,468.35 L126.65,469.33 L127.20,469.09 L127.75,468.75 L128.30,468.69 L128.85,470.46 L129.40,468.17 L129.95,468.18 L130.50,466.36 L131.05,465.59 L131.60,466.62 L132.15,464.29 L132.70,464.27 L133.25,463.88 L133.80,461.28 L134.35,457.63 L134.90,459.68 L135.45,460.21 L136.00,459.30 L136.55,460.04 L137.10,465.28 L137.65,464.90 L138.20,464.63 L138.75,464.40 L139.30,466.62 L139.85,469.24 L140.40,465.66 L140.95,469.10 L141.50,469.59 L142.05,469.38 L142.60,469.51 L143.15,469.81 L143.70,470.58 L144.25,471.81 L144.80,471.27 L145.35,468.28 L145.90,468.24 L146.45,469.64 L147.00,466.46 L147.55,466.18 L148.10,468.08 L148.65,467.95 L149.20,467.20 L149.75,470.05 L150.30,470.25 L150.85,467.53 L151.40,466.77 L151.95,469.17 L152.50,468.42 L153.05,468.06 L153.60,468.09 L154.15,466.29 L154.70,465.13 L155.25,463.88 L155.80,465.17 L156.35,467.56 L156.90,465.99 L157.45,466.22 L158.00,466.69 L158.55,469.26 L159.10,465.91 L159.65,467.80 L160.20,465.13 L160.75,466.03 L161.30,468.01 L161.85,467.04 L162.40,468.69 L162.95,471.02 L163.50,468.68 L164.05,469.28 L164.60,468.23 L165.15,468.74 L165.70,468.22 L166.25,469.45 L166.80,469.14 L167.35,468.98" fill="none" stroke="#3e5b98" stroke-width="1.5" stroke-linejoin="round"/>
<path d="M67.80,468.54 L68.35,468.88 L68.90,469.40 L69.45,471.24 L70.00,467.55 L70.55,465.05 L71.10,467.24 L71.65,467.10 L72.20,468.27 L72.75,468.08 L73.30,468.95 L73.85,466.35 L74.40,466.59 L74.95,466.68 L75.50,465.19 L76.05,467.05 L76.60,464.81 L77.15,467.48 L77.70,468.05 L78.25,468.38 L78.80,468.96 L79.35,466.21 L79.90,464.95 L80.45,465.47 L81.00,464.29 L81.55,467.73 L82.10,465.46 L82.65,468.67 L83.20,466.49 L83.75,468.25 L84.30,468.85 L84.85,470.22 L85.40,468.55 L85.95,465.46 L86.50,468.34 L87.05,468.46 L87.60,468.64 L88.15,467.76 L88.70,466.79 L89.25,467.31 L89.80,466.14 L90.35,464.17 L90.90,465.65 L91.45,468.44 L92.00,469.78 L92.55,468.75 L93.10,466.87 L93.65,465.96 L94.20,467.47 L94.75,466.37 L95.30,468.14 L95.85,466.54 L96.40,465.72 L96.95,468.62 L97.50,467.93 L98.05,468.21 L98.60,470.81 L99.15,469.57 L99.70,467.79 L100.25,468.09 L100.80,467.81 L101.35,470.74 L101.90,467.96 L102.45,468.37 L103.00,466.61 L103.55,464.73 L104.10,469.09 L104.65,468.74 L105.20,465.09 L105.75,465.41 L106.30,467.62 L106.85,465.07 L107.40,466.44 L107.95,469.25 L108.50,468.42 L109.05,466.16 L109.60,467.74 L110.15,469.70 L110.70,468.71 L111.25,471.73 L111.80,467.19 L112.35,465.94 L112.90,464.85 L113.45,466.14 L114.00,468.07 L114.55,468.07 L115.10,467.83 L115.65,466.62 L116.20,467.49 L116.75,466.63 L117.30,465.78 L117.85,467.63 L118.40,468.26 L118.95,468.78 L119.50,466.87 L120.05,470.30 L120.60,469.31 L121.15,469.55 L121.70,469.42 L122.25,469.10 L122.80,469.83 L123.35,467.01 L123.90,467.19 L124.45,467.85 L125.00,464.82 L125.55,465.13 L126.10,467.54 L126.65,467.23 L127.20,467.97 L127.75,469.30 L128.30,470.35 L128.85,470.89 L129.40,466.24 L129.95,466.82 L130.50,465.59 L131.05,466.97 L131.60,465.98 L132.15,460.57 L132.70,455.45 L133.25,449.78 L133.80,443.18 L134.35,433.67 L134.90,430.98 L135.45,429.17 L136.00,431.82 L136.55,441.56 L137.10,450.30 L137.65,455.46 L138.20,458.75 L138.75,462.76 L139.30,466.77 L139.85,466.46 L140.40,464.36 L140.95,466.64 L141.50,466.55 L142.05,467.81 L142.60,467.93 L143.15,468.54 L143.70,470.05 L144.25,471.05 L144.80,469.99 L145.35,468.68 L145.90,467.90 L146.45,467.78 L147.00,465.07 L147.55,465.13 L148.10,466.04 L148.65,467.06 L149.20,467.62 L149.75,467.21 L150.30,469.92 L150.85,467.58 L151.40,466.45 L151.95,468.81 L152.50,469.77 L153.05,467.91 L153.60,468.31 L154.15,466.23 L154.70,464.64 L155.25,464.51 L155.80,465.94 L156.35,466.43 L156.90,466.37 L157.45,465.80 L158.00,467.35 L158.55,468.95 L159.10,467.23 L159.65,467.34 L160.20,465.04 L160.75,468.40 L161.30,468.73 L161.85,467.39 L162.40,467.52 L162.95,469.40 L163.50,468.89 L164.05,466.34 L164.60,468.50 L165.15,469.12 L165.70,468.09 L166.25,466.92 L166.80,467.41 L167.35,467.98" fill="none" stroke="#3e2c52" stroke-width="1.6" stroke-linejoin="round"/>
<line x1="64.20" y1="467.80" x2="67.0" y2="467.80" stroke="#1e1e1e" stroke-width="1"/>
<text x="61.00" y="470.10" font-size="6.5" text-anchor="end" fill="#2b2b2b" stroke="#2b2b2b" stroke-width="0.22" >0</text>
<line x1="64.20" y1="451.88" x2="67.0" y2="451.88" stroke="#1e1e1e" stroke-width="1"/>
<text x="61.00" y="454.18" font-size="6.5" text-anchor="end" fill="#2b2b2b" stroke="#2b2b2b" stroke-width="0.22" textLength="15.6" lengthAdjust="spacingAndGlyphs" >2,000</text>
<line x1="64.20" y1="435.96" x2="67.0" y2="435.96" stroke="#1e1e1e" stroke-width="1"/>
<text x="61.00" y="438.26" font-size="6.5" text-anchor="end" fill="#2b2b2b" stroke="#2b2b2b" stroke-width="0.22" textLength="15.6" lengthAdjust="spacingAndGlyphs" >4,000</text>
<line x1="64.20" y1="420.04" x2="67.0" y2="420.04" stroke="#1e1e1e" stroke-width="1"/>
<text x="61.00" y="422.34" font-size="6.5" text-anchor="end" fill="#2b2b2b" stroke="#2b2b2b" stroke-width="0.22" textLength="15.6" lengthAdjust="spacingAndGlyphs" >6,000</text>
<line x1="64.20" y1="404.12" x2="67.0" y2="404.12" stroke="#1e1e1e" stroke-width="1"/>
<text x="61.00" y="406.42" font-size="6.5" text-anchor="end" fill="#2b2b2b" stroke="#2b2b2b" stroke-width="0.22" textLength="15.6" lengthAdjust="spacingAndGlyphs" >8,000</text>
<line x1="64.20" y1="388.20" x2="67.0" y2="388.20" stroke="#1e1e1e" stroke-width="1"/>
<text x="61.00" y="390.50" font-size="6.5" text-anchor="end" fill="#2b2b2b" stroke="#2b2b2b" stroke-width="0.22" textLength="19.0" lengthAdjust="spacingAndGlyphs" >10,000</text>
<line x1="67.0" y1="478.1" x2="67.0" y2="480.90000000000003" stroke="#1e1e1e" stroke-width="1"/>
<text x="67.00" y="490.00" font-size="6.6" text-anchor="middle" fill="#2b2b2b" stroke="#2b2b2b" stroke-width="0.22" textLength="6.4" lengthAdjust="spacingAndGlyphs" >12</text>
<line x1="113.1" y1="478.1" x2="113.1" y2="480.90000000000003" stroke="#1e1e1e" stroke-width="1"/>
<text x="113.10" y="490.00" font-size="6.6" text-anchor="middle" fill="#2b2b2b" stroke="#2b2b2b" stroke-width="0.22" textLength="6.6" lengthAdjust="spacingAndGlyphs" >40</text>
<line x1="140.1" y1="478.1" x2="140.1" y2="480.90000000000003" stroke="#1e1e1e" stroke-width="1"/>
<text x="140.10" y="490.00" font-size="6.6" text-anchor="middle" fill="#2b2b2b" stroke="#2b2b2b" stroke-width="0.22" textLength="6.6" lengthAdjust="spacingAndGlyphs" >66</text>
<line x1="157.6" y1="478.1" x2="157.6" y2="480.90000000000003" stroke="#1e1e1e" stroke-width="1"/>
<text x="157.60" y="490.00" font-size="6.6" text-anchor="middle" fill="#2b2b2b" stroke="#2b2b2b" stroke-width="0.22" textLength="9.6" lengthAdjust="spacingAndGlyphs" >116</text>
<text x="117.90" y="500.00" font-size="7.0" text-anchor="middle" fill="#2b2b2b" stroke="#2b2b2b" stroke-width="0.22" textLength="60" lengthAdjust="spacingAndGlyphs" >Molecular weight (kDa)</text>
<text x="25.20" y="453.60" font-size="7.3" text-anchor="start" fill="#2b2b2b" stroke="#2b2b2b" stroke-width="0.22" textLength="39.6" lengthAdjust="spacingAndGlyphs" transform="rotate(-90 25.20 453.60)" >Fyn p-Tyr530</text>
<text x="36.90" y="461.80" font-size="7.3" text-anchor="start" fill="#2b2b2b" stroke="#2b2b2b" stroke-width="0.22" textLength="58.0" lengthAdjust="spacingAndGlyphs" transform="rotate(-90 36.90 461.80)" >chemiluminescence</text>
<line x1="70.5" y1="393.60" x2="82.9" y2="393.60" stroke="#3e2c52" stroke-width="1.3" opacity="0.9"/>
<text x="85.80" y="395.70" font-size="5.9" text-anchor="start" fill="#2b2b2b" stroke="#2b2b2b" stroke-width="0.22" textLength="7.7" lengthAdjust="spacingAndGlyphs" >WT</text>
<line x1="70.5" y1="402.55" x2="82.9" y2="402.55" stroke="#3e5b98" stroke-width="1.3" opacity="0.9"/>
<text x="85.80" y="404.65" font-size="5.9" text-anchor="start" fill="#2b2b2b" stroke="#2b2b2b" stroke-width="0.22" font-style="italic" textLength="17.3" lengthAdjust="spacingAndGlyphs" >Csk KO</text>
<line x1="70.5" y1="411.50" x2="82.9" y2="411.50" stroke="#a3223f" stroke-width="1.3" opacity="0.9"/>
<text x="85.80" y="413.60" font-size="5.9" text-anchor="start" fill="#2b2b2b" stroke="#2b2b2b" stroke-width="0.22" font-style="italic" textLength="25.5" lengthAdjust="spacingAndGlyphs" >CD148 KO</text>
<line x1="70.5" y1="420.45" x2="82.9" y2="420.45" stroke="#7cbd52" stroke-width="1.3" opacity="0.9"/>
<text x="85.80" y="422.55" font-size="5.9" text-anchor="start" fill="#2b2b2b" stroke="#2b2b2b" stroke-width="0.22" textLength="11" lengthAdjust="spacingAndGlyphs" >DKO</text>
<rect x="217.9" y="84.60" width="18.70" height="20.30" fill="#5a2a7c"/>
<line x1="227.25" y1="84.60" x2="227.25" y2="82.00" stroke="#111" stroke-width="0.9"/>
<line x1="224.05" y1="82.00" x2="230.45" y2="82.00" stroke="#111" stroke-width="0.9"/>
<rect x="245.0" y="69.90" width="18.60" height="35.00" fill="#2e5394"/>
<line x1="254.30" y1="69.90" x2="254.30" y2="66.50" stroke="#111" stroke-width="0.9"/>
<line x1="251.10" y1="66.50" x2="257.50" y2="66.50" stroke="#111" stroke-width="0.9"/>
<rect x="272.0" y="99.70" width="18.60" height="5.20" fill="#b1123b"/>
<line x1="281.30" y1="99.70" x2="281.30" y2="98.20" stroke="#111" stroke-width="0.9"/>
<line x1="278.10" y1="98.20" x2="284.50" y2="98.20" stroke="#111" stroke-width="0.9"/>
<rect x="299.4" y="45.00" width="18.60" height="59.90" fill="#6bb33f"/>
<line x1="308.70" y1="45.00" x2="308.70" y2="40.50" stroke="#111" stroke-width="0.9"/>
<line x1="305.50" y1="40.50" x2="311.90" y2="40.50" stroke="#111" stroke-width="0.9"/>
<circle cx="227.60" cy="77.30" r="1.9" fill="#fff" stroke="#111" stroke-width="1.15"/>
<circle cx="224.80" cy="82.80" r="1.9" fill="#fff" stroke="#111" stroke-width="1.15"/>
<circle cx="230.50" cy="84.10" r="1.9" fill="#fff" stroke="#111" stroke-width="1.15"/>
<circle cx="221.90" cy="87.10" r="1.9" fill="#fff" stroke="#111" stroke-width="1.15"/>
<circle cx="233.00" cy="87.10" r="1.9" fill="#fff" stroke="#111" stroke-width="1.15"/>
<circle cx="227.60" cy="89.40" r="1.9" fill="#fff" stroke="#111" stroke-width="1.15"/>
<circle cx="254.70" cy="60.90" r="1.9" fill="#fff" stroke="#111" stroke-width="1.15"/>
<circle cx="257.50" cy="64.20" r="1.9" fill="#fff" stroke="#111" stroke-width="1.15"/>
<circle cx="248.80" cy="67.50" r="1.9" fill="#fff" stroke="#111" stroke-width="1.15"/>
<circle cx="252.30" cy="71.00" r="1.9" fill="#fff" stroke="#111" stroke-width="1.15"/>
<circle cx="257.80" cy="74.70" r="1.9" fill="#fff" stroke="#111" stroke-width="1.15"/>
<circle cx="254.70" cy="82.20" r="1.9" fill="#fff" stroke="#111" stroke-width="1.15"/>
<circle cx="279.10" cy="97.20" r="1.9" fill="#fff" stroke="#111" stroke-width="1.15"/>
<circle cx="284.50" cy="96.90" r="1.9" fill="#fff" stroke="#111" stroke-width="1.15"/>
<circle cx="277.10" cy="100.80" r="1.9" fill="#fff" stroke="#111" stroke-width="1.15"/>
<circle cx="281.20" cy="101.80" r="1.9" fill="#fff" stroke="#111" stroke-width="1.15"/>
<circle cx="286.40" cy="100.20" r="1.9" fill="#fff" stroke="#111" stroke-width="1.15"/>
<circle cx="281.50" cy="99.50" r="1.9" fill="#fff" stroke="#111" stroke-width="1.15"/>
<circle cx="307.60" cy="32.30" r="1.9" fill="#fff" stroke="#111" stroke-width="1.15"/>
<circle cx="309.70" cy="34.50" r="1.9" fill="#fff" stroke="#111" stroke-width="1.15"/>
<circle cx="305.50" cy="36.00" r="1.9" fill="#fff" stroke="#111" stroke-width="1.15"/>
<circle cx="309.00" cy="38.50" r="1.9" fill="#fff" stroke="#111" stroke-width="1.15"/>
<circle cx="308.90" cy="45.30" r="1.9" fill="#fff" stroke="#111" stroke-width="1.15"/>
<circle cx="308.90" cy="55.00" r="1.9" fill="#fff" stroke="#111" stroke-width="1.15"/>
<circle cx="308.90" cy="64.30" r="1.9" fill="#fff" stroke="#111" stroke-width="1.15"/>
<line x1="213.8" y1="29.90" x2="213.8" y2="105.40" stroke="#1e1e1e" stroke-width="1.2"/>
<line x1="213.20000000000002" y1="104.90" x2="322.2" y2="104.90" stroke="#1e1e1e" stroke-width="1.2"/>
<line x1="210.8" y1="104.90" x2="213.8" y2="104.90" stroke="#1e1e1e" stroke-width="1"/>
<text x="208.10" y="107.20" font-size="6.5" text-anchor="end" fill="#2b2b2b" stroke="#2b2b2b" stroke-width="0.22" >0</text>
<line x1="210.8" y1="90.20" x2="213.8" y2="90.20" stroke="#1e1e1e" stroke-width="1"/>
<text x="208.10" y="92.50" font-size="6.5" text-anchor="end" fill="#2b2b2b" stroke="#2b2b2b" stroke-width="0.22" textLength="16.8" lengthAdjust="spacingAndGlyphs" >50000</text>
<line x1="210.8" y1="75.50" x2="213.8" y2="75.50" stroke="#1e1e1e" stroke-width="1"/>
<text x="208.10" y="77.80" font-size="6.5" text-anchor="end" fill="#2b2b2b" stroke="#2b2b2b" stroke-width="0.22" textLength="21.2" lengthAdjust="spacingAndGlyphs" >100000</text>
<line x1="210.8" y1="60.80" x2="213.8" y2="60.80" stroke="#1e1e1e" stroke-width="1"/>
<text x="208.10" y="63.10" font-size="6.5" text-anchor="end" fill="#2b2b2b" stroke="#2b2b2b" stroke-width="0.22" textLength="21.2" lengthAdjust="spacingAndGlyphs" >150000</text>
<line x1="210.8" y1="46.10" x2="213.8" y2="46.10" stroke="#1e1e1e" stroke-width="1"/>
<text x="208.10" y="48.40" font-size="6.5" text-anchor="end" fill="#2b2b2b" stroke="#2b2b2b" stroke-width="0.22" textLength="21.2" lengthAdjust="spacingAndGlyphs" >200000</text>
<line x1="210.8" y1="31.40" x2="213.8" y2="31.40" stroke="#1e1e1e" stroke-width="1"/>
<text x="208.10" y="33.70" font-size="6.5" text-anchor="end" fill="#2b2b2b" stroke="#2b2b2b" stroke-width="0.22" textLength="21.2" lengthAdjust="spacingAndGlyphs" >250000</text>
<line x1="227.25" y1="104.90" x2="227.25" y2="107.50" stroke="#1e1e1e" stroke-width="1"/>
<line x1="254.30" y1="104.90" x2="254.30" y2="107.50" stroke="#1e1e1e" stroke-width="1"/>
<line x1="281.30" y1="104.90" x2="281.30" y2="107.50" stroke="#1e1e1e" stroke-width="1"/>
<line x1="308.70" y1="104.90" x2="308.70" y2="107.50" stroke="#1e1e1e" stroke-width="1"/>
<text x="181.40" y="63.60" font-size="7.0" text-anchor="middle" fill="#2b2b2b" stroke="#2b2b2b" stroke-width="0.22" textLength="28.5" lengthAdjust="spacingAndGlyphs" transform="rotate(-90 181.40 63.60)" >Peak area</text>
<text x="227.50" y="116.90" font-size="6.5" text-anchor="middle" fill="#2b2b2b" stroke="#2b2b2b" stroke-width="0.22" textLength="9.2" lengthAdjust="spacingAndGlyphs" >WT</text>
<text x="254.80" y="116.90" font-size="6.5" text-anchor="middle" fill="#2b2b2b" stroke="#2b2b2b" stroke-width="0.22" textLength="11.8" lengthAdjust="spacingAndGlyphs" >CSK</text>
<text x="254.60" y="124.20" font-size="6.5" text-anchor="middle" fill="#2b2b2b" stroke="#2b2b2b" stroke-width="0.22" textLength="8.7" lengthAdjust="spacingAndGlyphs" >KO</text>
<text x="282.00" y="116.90" font-size="6.5" text-anchor="middle" fill="#2b2b2b" stroke="#2b2b2b" stroke-width="0.22" textLength="19.8" lengthAdjust="spacingAndGlyphs" >CD148</text>
<text x="281.70" y="124.20" font-size="6.5" text-anchor="middle" fill="#2b2b2b" stroke="#2b2b2b" stroke-width="0.22" textLength="9.2" lengthAdjust="spacingAndGlyphs" >KO</text>
<text x="308.90" y="116.90" font-size="6.5" text-anchor="middle" fill="#2b2b2b" stroke="#2b2b2b" stroke-width="0.22" textLength="13.6" lengthAdjust="spacingAndGlyphs" >DKO</text>
<text x="254.50" y="55.30" font-size="6.2" text-anchor="middle" fill="#333" stroke="#333" stroke-width="0.22" >*</text>
<text x="281.70" y="91.70" font-size="6.2" text-anchor="middle" fill="#333" stroke="#333" stroke-width="0.22" >***</text>
<text x="308.40" y="27.70" font-size="6.2" text-anchor="middle" fill="#333" stroke="#333" stroke-width="0.22" >***</text>
<line x1="254.7" y1="17.8" x2="308.9" y2="17.8" stroke="#222" stroke-width="1.3"/>
<text x="281.80" y="18.50" font-size="6.4" text-anchor="middle" fill="#333" stroke="#333" stroke-width="0.22" >**</text>
<rect x="217.9" y="209.20" width="18.70" height="16.60" fill="#5a2a7c"/>
<line x1="227.25" y1="209.20" x2="227.25" y2="206.80" stroke="#111" stroke-width="0.9"/>
<line x1="224.05" y1="206.80" x2="230.45" y2="206.80" stroke="#111" stroke-width="0.9"/>
<rect x="245.0" y="225.30" width="18.60" height="0.50" fill="#2e5394"/>
<rect x="272.0" y="184.70" width="18.60" height="41.10" fill="#b1123b"/>
<line x1="281.30" y1="184.70" x2="281.30" y2="180.30" stroke="#111" stroke-width="0.9"/>
<line x1="278.10" y1="180.30" x2="284.50" y2="180.30" stroke="#111" stroke-width="0.9"/>
<rect x="299.4" y="222.30" width="18.60" height="3.50" fill="#6bb33f"/>
<line x1="308.70" y1="222.30" x2="308.70" y2="220.50" stroke="#111" stroke-width="0.9"/>
<line x1="305.50" y1="220.50" x2="311.90" y2="220.50" stroke="#111" stroke-width="0.9"/>
<circle cx="224.60" cy="203.80" r="1.9" fill="#fff" stroke="#111" stroke-width="1.15"/>
<circle cx="229.90" cy="204.50" r="1.9" fill="#fff" stroke="#111" stroke-width="1.15"/>
<circle cx="220.70" cy="212.40" r="1.9" fill="#fff" stroke="#111" stroke-width="1.15"/>
<circle cx="225.30" cy="214.20" r="1.9" fill="#fff" stroke="#111" stroke-width="1.15"/>
<circle cx="229.90" cy="214.20" r="1.9" fill="#fff" stroke="#111" stroke-width="1.15"/>
<circle cx="233.80" cy="209.20" r="1.9" fill="#fff" stroke="#111" stroke-width="1.15"/>
<circle cx="249.50" cy="225.20" r="1.9" fill="#fff" stroke="#111" stroke-width="1.15"/>
<circle cx="252.50" cy="225.50" r="1.9" fill="#fff" stroke="#111" stroke-width="1.15"/>
<circle cx="255.50" cy="225.00" r="1.9" fill="#fff" stroke="#111" stroke-width="1.15"/>
<circle cx="258.50" cy="225.30" r="1.9" fill="#fff" stroke="#111" stroke-width="1.15"/>
<circle cx="281.20" cy="165.10" r="1.9" fill="#fff" stroke="#111" stroke-width="1.15"/>
<circle cx="283.90" cy="181.90" r="1.9" fill="#fff" stroke="#111" stroke-width="1.15"/>
<circle cx="276.50" cy="184.70" r="1.9" fill="#fff" stroke="#111" stroke-width="1.15"/>
<circle cx="278.80" cy="186.50" r="1.9" fill="#fff" stroke="#111" stroke-width="1.15"/>
<circle cx="284.60" cy="191.60" r="1.9" fill="#fff" stroke="#111" stroke-width="1.15"/>
<circle cx="281.20" cy="196.90" r="1.9" fill="#fff" stroke="#111" stroke-width="1.15"/>
<circle cx="306.10" cy="217.90" r="1.9" fill="#fff" stroke="#111" stroke-width="1.15"/>
<circle cx="301.90" cy="221.80" r="1.9" fill="#fff" stroke="#111" stroke-width="1.15"/>
<circle cx="311.20" cy="220.00" r="1.9" fill="#fff" stroke="#111" stroke-width="1.15"/>
<circle cx="315.30" cy="221.20" r="1.9" fill="#fff" stroke="#111" stroke-width="1.15"/>
<circle cx="306.50" cy="225.30" r="1.9" fill="#fff" stroke="#111" stroke-width="1.15"/>
<circle cx="310.70" cy="223.50" r="1.9" fill="#fff" stroke="#111" stroke-width="1.15"/>
<line x1="213.8" y1="153.88" x2="213.8" y2="226.30" stroke="#1e1e1e" stroke-width="1.2"/>
<line x1="213.20000000000002" y1="225.80" x2="322.2" y2="225.80" stroke="#1e1e1e" stroke-width="1.2"/>
<line x1="210.8" y1="225.80" x2="213.8" y2="225.80" stroke="#1e1e1e" stroke-width="1"/>
<text x="208.10" y="228.10" font-size="6.5" text-anchor="end" fill="#2b2b2b" stroke="#2b2b2b" stroke-width="0.22" >0</text>
<line x1="210.8" y1="215.74" x2="213.8" y2="215.74" stroke="#1e1e1e" stroke-width="1"/>
<text x="208.10" y="218.04" font-size="6.5" text-anchor="end" fill="#2b2b2b" stroke="#2b2b2b" stroke-width="0.22" textLength="16.8" lengthAdjust="spacingAndGlyphs" >10000</text>
<line x1="210.8" y1="205.68" x2="213.8" y2="205.68" stroke="#1e1e1e" stroke-width="1"/>
<text x="208.10" y="207.98" font-size="6.5" text-anchor="end" fill="#2b2b2b" stroke="#2b2b2b" stroke-width="0.22" textLength="16.8" lengthAdjust="spacingAndGlyphs" >20000</text>
<line x1="210.8" y1="195.62" x2="213.8" y2="195.62" stroke="#1e1e1e" stroke-width="1"/>
<text x="208.10" y="197.92" font-size="6.5" text-anchor="end" fill="#2b2b2b" stroke="#2b2b2b" stroke-width="0.22" textLength="16.8" lengthAdjust="spacingAndGlyphs" >30000</text>
<line x1="210.8" y1="185.56" x2="213.8" y2="185.56" stroke="#1e1e1e" stroke-width="1"/>
<text x="208.10" y="187.86" font-size="6.5" text-anchor="end" fill="#2b2b2b" stroke="#2b2b2b" stroke-width="0.22" textLength="16.8" lengthAdjust="spacingAndGlyphs" >40000</text>
<line x1="210.8" y1="175.50" x2="213.8" y2="175.50" stroke="#1e1e1e" stroke-width="1"/>
<text x="208.10" y="177.80" font-size="6.5" text-anchor="end" fill="#2b2b2b" stroke="#2b2b2b" stroke-width="0.22" textLength="16.8" lengthAdjust="spacingAndGlyphs" >50000</text>
<line x1="210.8" y1="165.44" x2="213.8" y2="165.44" stroke="#1e1e1e" stroke-width="1"/>
<text x="208.10" y="167.74" font-size="6.5" text-anchor="end" fill="#2b2b2b" stroke="#2b2b2b" stroke-width="0.22" textLength="16.8" lengthAdjust="spacingAndGlyphs" >60000</text>
<line x1="210.8" y1="155.38" x2="213.8" y2="155.38" stroke="#1e1e1e" stroke-width="1"/>
<text x="208.10" y="157.68" font-size="6.5" text-anchor="end" fill="#2b2b2b" stroke="#2b2b2b" stroke-width="0.22" textLength="16.8" lengthAdjust="spacingAndGlyphs" >70000</text>
<line x1="227.25" y1="225.80" x2="227.25" y2="228.40" stroke="#1e1e1e" stroke-width="1"/>
<line x1="254.30" y1="225.80" x2="254.30" y2="228.40" stroke="#1e1e1e" stroke-width="1"/>
<line x1="281.30" y1="225.80" x2="281.30" y2="228.40" stroke="#1e1e1e" stroke-width="1"/>
<line x1="308.70" y1="225.80" x2="308.70" y2="228.40" stroke="#1e1e1e" stroke-width="1"/>
<text x="184.60" y="188.90" font-size="7.0" text-anchor="middle" fill="#2b2b2b" stroke="#2b2b2b" stroke-width="0.22" textLength="28.5" lengthAdjust="spacingAndGlyphs" transform="rotate(-90 184.60 188.90)" >Peak area</text>
<text x="227.50" y="237.80" font-size="6.5" text-anchor="middle" fill="#2b2b2b" stroke="#2b2b2b" stroke-width="0.22" textLength="9.2" lengthAdjust="spacingAndGlyphs" >WT</text>
<text x="254.80" y="237.80" font-size="6.5" text-anchor="middle" fill="#2b2b2b" stroke="#2b2b2b" stroke-width="0.22" textLength="11.8" lengthAdjust="spacingAndGlyphs" >CSK</text>
<text x="254.60" y="245.10" font-size="6.5" text-anchor="middle" fill="#2b2b2b" stroke="#2b2b2b" stroke-width="0.22" textLength="8.7" lengthAdjust="spacingAndGlyphs" >KO</text>
<text x="282.00" y="237.80" font-size="6.5" text-anchor="middle" fill="#2b2b2b" stroke="#2b2b2b" stroke-width="0.22" textLength="19.8" lengthAdjust="spacingAndGlyphs" >CD148</text>
<text x="281.70" y="245.10" font-size="6.5" text-anchor="middle" fill="#2b2b2b" stroke="#2b2b2b" stroke-width="0.22" textLength="9.2" lengthAdjust="spacingAndGlyphs" >KO</text>
<text x="308.90" y="237.80" font-size="6.5" text-anchor="middle" fill="#2b2b2b" stroke="#2b2b2b" stroke-width="0.22" textLength="13.6" lengthAdjust="spacingAndGlyphs" >DKO</text>
<text x="253.90" y="218.80" font-size="6.2" text-anchor="middle" fill="#333" stroke="#333" stroke-width="0.22" >**</text>
<text x="281.20" y="157.70" font-size="6.2" text-anchor="middle" fill="#333" stroke="#333" stroke-width="0.22" >**</text>
<text x="308.40" y="213.80" font-size="6.2" text-anchor="middle" fill="#333" stroke="#333" stroke-width="0.22" >*</text>
<rect x="217.9" y="321.10" width="18.70" height="32.30" fill="#5a2a7c"/>
<line x1="227.25" y1="321.10" x2="227.25" y2="318.50" stroke="#111" stroke-width="0.9"/>
<line x1="224.05" y1="318.50" x2="230.45" y2="318.50" stroke="#111" stroke-width="0.9"/>
<rect x="245.0" y="345.80" width="18.60" height="7.60" fill="#2e5394"/>
<line x1="254.30" y1="345.80" x2="254.30" y2="344.00" stroke="#111" stroke-width="0.9"/>
<line x1="251.10" y1="344.00" x2="257.50" y2="344.00" stroke="#111" stroke-width="0.9"/>
<rect x="272.0" y="307.70" width="18.60" height="45.70" fill="#b1123b"/>
<line x1="281.30" y1="307.70" x2="281.30" y2="303.00" stroke="#111" stroke-width="0.9"/>
<line x1="278.10" y1="303.00" x2="284.50" y2="303.00" stroke="#111" stroke-width="0.9"/>
<rect x="299.4" y="326.90" width="18.60" height="26.50" fill="#6bb33f"/>
<line x1="308.70" y1="326.90" x2="308.70" y2="324.50" stroke="#111" stroke-width="0.9"/>
<line x1="305.50" y1="324.50" x2="311.90" y2="324.50" stroke="#111" stroke-width="0.9"/>
<circle cx="226.90" cy="310.00" r="1.9" fill="#fff" stroke="#111" stroke-width="1.15"/>
<circle cx="226.90" cy="316.20" r="1.9" fill="#fff" stroke="#111" stroke-width="1.15"/>
<circle cx="221.60" cy="322.70" r="1.9" fill="#fff" stroke="#111" stroke-width="1.15"/>
<circle cx="232.70" cy="322.20" r="1.9" fill="#fff" stroke="#111" stroke-width="1.15"/>
<circle cx="227.40" cy="325.00" r="1.9" fill="#fff" stroke="#111" stroke-width="1.15"/>
<circle cx="226.90" cy="333.80" r="1.9" fill="#fff" stroke="#111" stroke-width="1.15"/>
<circle cx="254.20" cy="343.90" r="1.9" fill="#fff" stroke="#111" stroke-width="1.15"/>
<circle cx="248.40" cy="347.40" r="1.9" fill="#fff" stroke="#111" stroke-width="1.15"/>
<circle cx="259.90" cy="347.60" r="1.9" fill="#fff" stroke="#111" stroke-width="1.15"/>
<circle cx="252.30" cy="349.20" r="1.9" fill="#fff" stroke="#111" stroke-width="1.15"/>
<circle cx="256.90" cy="350.90" r="1.9" fill="#fff" stroke="#111" stroke-width="1.15"/>
<circle cx="281.20" cy="288.80" r="1.9" fill="#fff" stroke="#111" stroke-width="1.15"/>
<circle cx="276.10" cy="304.70" r="1.9" fill="#fff" stroke="#111" stroke-width="1.15"/>
<circle cx="281.20" cy="305.40" r="1.9" fill="#fff" stroke="#111" stroke-width="1.15"/>
<circle cx="286.90" cy="303.80" r="1.9" fill="#fff" stroke="#111" stroke-width="1.15"/>
<circle cx="278.40" cy="319.20" r="1.9" fill="#fff" stroke="#111" stroke-width="1.15"/>
<circle cx="284.20" cy="319.20" r="1.9" fill="#fff" stroke="#111" stroke-width="1.15"/>
<circle cx="303.10" cy="319.90" r="1.9" fill="#fff" stroke="#111" stroke-width="1.15"/>
<circle cx="313.50" cy="322.70" r="1.9" fill="#fff" stroke="#111" stroke-width="1.15"/>
<circle cx="308.90" cy="324.50" r="1.9" fill="#fff" stroke="#111" stroke-width="1.15"/>
<circle cx="304.70" cy="328.50" r="1.9" fill="#fff" stroke="#111" stroke-width="1.15"/>
<circle cx="311.20" cy="331.90" r="1.9" fill="#fff" stroke="#111" stroke-width="1.15"/>
<circle cx="308.40" cy="337.70" r="1.9" fill="#fff" stroke="#111" stroke-width="1.15"/>
<line x1="213.8" y1="281.50" x2="213.8" y2="353.90" stroke="#1e1e1e" stroke-width="1.2"/>
<line x1="213.20000000000002" y1="353.40" x2="322.2" y2="353.40" stroke="#1e1e1e" stroke-width="1.2"/>
<line x1="210.8" y1="353.40" x2="213.8" y2="353.40" stroke="#1e1e1e" stroke-width="1"/>
<text x="208.10" y="355.70" font-size="6.5" text-anchor="end" fill="#2b2b2b" stroke="#2b2b2b" stroke-width="0.22" >0</text>
<line x1="210.8" y1="339.32" x2="213.8" y2="339.32" stroke="#1e1e1e" stroke-width="1"/>
<text x="208.10" y="341.62" font-size="6.5" text-anchor="end" fill="#2b2b2b" stroke="#2b2b2b" stroke-width="0.22" textLength="16.8" lengthAdjust="spacingAndGlyphs" >50000</text>
<line x1="210.8" y1="325.24" x2="213.8" y2="325.24" stroke="#1e1e1e" stroke-width="1"/>
<text x="208.10" y="327.54" font-size="6.5" text-anchor="end" fill="#2b2b2b" stroke="#2b2b2b" stroke-width="0.22" textLength="21.2" lengthAdjust="spacingAndGlyphs" >100000</text>
<line x1="210.8" y1="311.16" x2="213.8" y2="311.16" stroke="#1e1e1e" stroke-width="1"/>
<text x="208.10" y="313.46" font-size="6.5" text-anchor="end" fill="#2b2b2b" stroke="#2b2b2b" stroke-width="0.22" textLength="21.2" lengthAdjust="spacingAndGlyphs" >150000</text>
<line x1="210.8" y1="297.08" x2="213.8" y2="297.08" stroke="#1e1e1e" stroke-width="1"/>
<text x="208.10" y="299.38" font-size="6.5" text-anchor="end" fill="#2b2b2b" stroke="#2b2b2b" stroke-width="0.22" textLength="21.2" lengthAdjust="spacingAndGlyphs" >200000</text>
<line x1="210.8" y1="283.00" x2="213.8" y2="283.00" stroke="#1e1e1e" stroke-width="1"/>
<text x="208.10" y="285.30" font-size="6.5" text-anchor="end" fill="#2b2b2b" stroke="#2b2b2b" stroke-width="0.22" textLength="21.2" lengthAdjust="spacingAndGlyphs" >250000</text>
<line x1="227.25" y1="353.40" x2="227.25" y2="356.00" stroke="#1e1e1e" stroke-width="1"/>
<line x1="254.30" y1="353.40" x2="254.30" y2="356.00" stroke="#1e1e1e" stroke-width="1"/>
<line x1="281.30" y1="353.40" x2="281.30" y2="356.00" stroke="#1e1e1e" stroke-width="1"/>
<line x1="308.70" y1="353.40" x2="308.70" y2="356.00" stroke="#1e1e1e" stroke-width="1"/>
<text x="181.80" y="317.30" font-size="7.0" text-anchor="middle" fill="#2b2b2b" stroke="#2b2b2b" stroke-width="0.22" textLength="28.5" lengthAdjust="spacingAndGlyphs" transform="rotate(-90 181.80 317.30)" >Peak area</text>
<text x="227.50" y="365.40" font-size="6.5" text-anchor="middle" fill="#2b2b2b" stroke="#2b2b2b" stroke-width="0.22" textLength="9.2" lengthAdjust="spacingAndGlyphs" >WT</text>
<text x="254.80" y="365.40" font-size="6.5" text-anchor="middle" fill="#2b2b2b" stroke="#2b2b2b" stroke-width="0.22" textLength="11.8" lengthAdjust="spacingAndGlyphs" >CSK</text>
<text x="254.60" y="372.70" font-size="6.5" text-anchor="middle" fill="#2b2b2b" stroke="#2b2b2b" stroke-width="0.22" textLength="8.7" lengthAdjust="spacingAndGlyphs" >KO</text>
<text x="282.00" y="365.40" font-size="6.5" text-anchor="middle" fill="#2b2b2b" stroke="#2b2b2b" stroke-width="0.22" font-style="italic" textLength="19.8" lengthAdjust="spacingAndGlyphs" >CD148</text>
<text x="281.70" y="372.70" font-size="6.5" text-anchor="middle" fill="#2b2b2b" stroke="#2b2b2b" stroke-width="0.22" textLength="9.2" lengthAdjust="spacingAndGlyphs" >KO</text>
<text x="308.90" y="365.40" font-size="6.5" text-anchor="middle" fill="#2b2b2b" stroke="#2b2b2b" stroke-width="0.22" textLength="13.6" lengthAdjust="spacingAndGlyphs" >DKO</text>
<text x="254.20" y="338.40" font-size="6.2" text-anchor="middle" fill="#333" stroke="#333" stroke-width="0.22" >***</text>
<text x="280.70" y="285.30" font-size="6.2" text-anchor="middle" fill="#333" stroke="#333" stroke-width="0.22" >**</text>
<text x="307.70" y="316.50" font-size="6.2" text-anchor="middle" fill="#333" stroke="#333" stroke-width="0.22" >*</text>
<line x1="253.5" y1="276.5" x2="307.7" y2="276.5" stroke="#222" stroke-width="1.3"/>
<text x="280.60" y="277.20" font-size="6.4" text-anchor="middle" fill="#333" stroke="#333" stroke-width="0.22" >***</text>
<rect x="217.9" y="449.70" width="18.70" height="27.70" fill="#5a2a7c"/>
<line x1="227.25" y1="449.70" x2="227.25" y2="444.60" stroke="#111" stroke-width="0.9"/>
<line x1="224.05" y1="444.60" x2="230.45" y2="444.60" stroke="#111" stroke-width="0.9"/>
<rect x="245.0" y="472.30" width="18.60" height="5.10" fill="#2e5394"/>
<line x1="254.30" y1="472.30" x2="254.30" y2="470.50" stroke="#111" stroke-width="0.9"/>
<line x1="251.10" y1="470.50" x2="257.50" y2="470.50" stroke="#111" stroke-width="0.9"/>
<rect x="272.0" y="437.70" width="18.60" height="39.70" fill="#b1123b"/>
<line x1="281.30" y1="437.70" x2="281.30" y2="432.60" stroke="#111" stroke-width="0.9"/>
<line x1="278.10" y1="432.60" x2="284.50" y2="432.60" stroke="#111" stroke-width="0.9"/>
<rect x="299.4" y="453.80" width="18.60" height="23.60" fill="#6bb33f"/>
<line x1="308.70" y1="453.80" x2="308.70" y2="450.80" stroke="#111" stroke-width="0.9"/>
<line x1="305.50" y1="450.80" x2="311.90" y2="450.80" stroke="#111" stroke-width="0.9"/>
<circle cx="227.40" cy="429.60" r="1.9" fill="#fff" stroke="#111" stroke-width="1.15"/>
<circle cx="226.90" cy="444.60" r="1.9" fill="#fff" stroke="#111" stroke-width="1.15"/>
<circle cx="224.60" cy="449.20" r="1.9" fill="#fff" stroke="#111" stroke-width="1.15"/>
<circle cx="230.40" cy="450.40" r="1.9" fill="#fff" stroke="#111" stroke-width="1.15"/>
<circle cx="229.90" cy="460.80" r="1.9" fill="#fff" stroke="#111" stroke-width="1.15"/>
<circle cx="224.60" cy="462.40" r="1.9" fill="#fff" stroke="#111" stroke-width="1.15"/>
<circle cx="254.20" cy="469.30" r="1.9" fill="#fff" stroke="#111" stroke-width="1.15"/>
<circle cx="248.40" cy="471.20" r="1.9" fill="#fff" stroke="#111" stroke-width="1.15"/>
<circle cx="259.90" cy="472.30" r="1.9" fill="#fff" stroke="#111" stroke-width="1.15"/>
<circle cx="251.20" cy="474.60" r="1.9" fill="#fff" stroke="#111" stroke-width="1.15"/>
<circle cx="256.90" cy="475.30" r="1.9" fill="#fff" stroke="#111" stroke-width="1.15"/>
<circle cx="281.20" cy="420.40" r="1.9" fill="#fff" stroke="#111" stroke-width="1.15"/>
<circle cx="281.20" cy="426.20" r="1.9" fill="#fff" stroke="#111" stroke-width="1.15"/>
<circle cx="276.10" cy="439.30" r="1.9" fill="#fff" stroke="#111" stroke-width="1.15"/>
<circle cx="284.60" cy="439.30" r="1.9" fill="#fff" stroke="#111" stroke-width="1.15"/>
<circle cx="278.40" cy="449.90" r="1.9" fill="#fff" stroke="#111" stroke-width="1.15"/>
<circle cx="284.20" cy="449.90" r="1.9" fill="#fff" stroke="#111" stroke-width="1.15"/>
<circle cx="303.10" cy="447.60" r="1.9" fill="#fff" stroke="#111" stroke-width="1.15"/>
<circle cx="313.50" cy="447.60" r="1.9" fill="#fff" stroke="#111" stroke-width="1.15"/>
<circle cx="308.40" cy="451.50" r="1.9" fill="#fff" stroke="#111" stroke-width="1.15"/>
<circle cx="303.10" cy="457.30" r="1.9" fill="#fff" stroke="#111" stroke-width="1.15"/>
<circle cx="308.40" cy="460.30" r="1.9" fill="#fff" stroke="#111" stroke-width="1.15"/>
<circle cx="313.50" cy="460.30" r="1.9" fill="#fff" stroke="#111" stroke-width="1.15"/>
<line x1="213.8" y1="405.01" x2="213.8" y2="477.90" stroke="#1e1e1e" stroke-width="1.2"/>
<line x1="213.20000000000002" y1="477.40" x2="322.2" y2="477.40" stroke="#1e1e1e" stroke-width="1.2"/>
<line x1="210.8" y1="477.40" x2="213.8" y2="477.40" stroke="#1e1e1e" stroke-width="1"/>
<text x="208.10" y="479.70" font-size="6.5" text-anchor="end" fill="#2b2b2b" stroke="#2b2b2b" stroke-width="0.22" >0</text>
<line x1="210.8" y1="453.77" x2="213.8" y2="453.77" stroke="#1e1e1e" stroke-width="1"/>
<text x="208.10" y="456.07" font-size="6.5" text-anchor="end" fill="#2b2b2b" stroke="#2b2b2b" stroke-width="0.22" textLength="16.8" lengthAdjust="spacingAndGlyphs" >50000</text>
<line x1="210.8" y1="430.14" x2="213.8" y2="430.14" stroke="#1e1e1e" stroke-width="1"/>
<text x="208.10" y="432.44" font-size="6.5" text-anchor="end" fill="#2b2b2b" stroke="#2b2b2b" stroke-width="0.22" textLength="21.2" lengthAdjust="spacingAndGlyphs" >100000</text>
<line x1="210.8" y1="406.51" x2="213.8" y2="406.51" stroke="#1e1e1e" stroke-width="1"/>
<text x="208.10" y="408.81" font-size="6.5" text-anchor="end" fill="#2b2b2b" stroke="#2b2b2b" stroke-width="0.22" textLength="21.2" lengthAdjust="spacingAndGlyphs" >150000</text>
<line x1="227.25" y1="477.40" x2="227.25" y2="480.00" stroke="#1e1e1e" stroke-width="1"/>
<line x1="254.30" y1="477.40" x2="254.30" y2="480.00" stroke="#1e1e1e" stroke-width="1"/>
<line x1="281.30" y1="477.40" x2="281.30" y2="480.00" stroke="#1e1e1e" stroke-width="1"/>
<line x1="308.70" y1="477.40" x2="308.70" y2="480.00" stroke="#1e1e1e" stroke-width="1"/>
<text x="181.60" y="440.90" font-size="7.0" text-anchor="middle" fill="#2b2b2b" stroke="#2b2b2b" stroke-width="0.22" textLength="28.5" lengthAdjust="spacingAndGlyphs" transform="rotate(-90 181.60 440.90)" >Peak area</text>
<text x="227.50" y="489.40" font-size="6.5" text-anchor="middle" fill="#2b2b2b" stroke="#2b2b2b" stroke-width="0.22" textLength="9.2" lengthAdjust="spacingAndGlyphs" >WT</text>
<text x="254.80" y="489.40" font-size="6.5" text-anchor="middle" fill="#2b2b2b" stroke="#2b2b2b" stroke-width="0.22" font-style="italic" textLength="11.8" lengthAdjust="spacingAndGlyphs" >CSK</text>
<text x="254.60" y="496.70" font-size="6.5" text-anchor="middle" fill="#2b2b2b" stroke="#2b2b2b" stroke-width="0.22" textLength="8.7" lengthAdjust="spacingAndGlyphs" >KO</text>
<text x="282.00" y="489.40" font-size="6.5" text-anchor="middle" fill="#2b2b2b" stroke="#2b2b2b" stroke-width="0.22" font-style="italic" textLength="19.8" lengthAdjust="spacingAndGlyphs" >CD148</text>
<text x="281.70" y="496.70" font-size="6.5" text-anchor="middle" fill="#2b2b2b" stroke="#2b2b2b" stroke-width="0.22" textLength="9.2" lengthAdjust="spacingAndGlyphs" >KO</text>
<text x="308.90" y="489.40" font-size="6.5" text-anchor="middle" fill="#2b2b2b" stroke="#2b2b2b" stroke-width="0.22" textLength="13.6" lengthAdjust="spacingAndGlyphs" >DKO</text>
<text x="254.20" y="462.20" font-size="6.2" text-anchor="middle" fill="#333" stroke="#333" stroke-width="0.22" >*</text>
<text x="280.70" y="415.30" font-size="6.2" text-anchor="middle" fill="#333" stroke="#333" stroke-width="0.22" >**</text>
<line x1="253.5" y1="404.9" x2="308.4" y2="404.9" stroke="#222" stroke-width="1.3"/>
<text x="280.95" y="405.60" font-size="6.4" text-anchor="middle" fill="#333" stroke="#333" stroke-width="0.22" >**</text>
<text x="343.60" y="16.20" font-size="11.8" text-anchor="start" fill="#111" stroke="#111" stroke-width="0.22" font-weight="bold" >B</text>
<text x="344.00" y="32.20" font-size="7.2" text-anchor="start" fill="#111" stroke="#111" stroke-width="0.22" font-weight="bold" textLength="9.4" lengthAdjust="spacingAndGlyphs" >WT</text>
<rect x="344.0" y="36.5" width="168" height="95.5" fill="url(#pinkg)"/>
<rect x="344.0" y="36.5" width="168" height="8.6" fill="url(#memg)"/>
<line x1="368.30" y1="44.80" x2="368.30" y2="48.00" stroke="#5b4a42" stroke-width="0.8"/>
<path d="M360.00,51.30 H354.70 V61.50" fill="none" stroke="#5b4a42" stroke-width="0.8"/>
<path d="M362.60,65.50 H365.70 V55.00" fill="none" stroke="#5b4a42" stroke-width="0.8"/>
<path d="M371.30,55.00 V59.50" fill="none" stroke="#5b4a42" stroke-width="0.8"/>
<path d="M371.60,78.50 V86.00 H358.80" fill="none" stroke="#5b4a42" stroke-width="0.8"/>
<line x1="362.60" y1="83.00" x2="362.60" y2="86.00" stroke="#5b4a42" stroke-width="0.7"/>
<rect x="359.60" y="47.90" width="16.40" height="7.60" rx="3.61" ry="3.61" fill="url(#cyg)" stroke="#1a7fb4" stroke-width="0.85"/>
<text x="367.80" y="53.30" font-size="4.6" text-anchor="middle" fill="#0d5c86" stroke="#0d5c86" stroke-width="0.1" >SH3</text>
<rect x="346.50" y="61.10" width="16.00" height="8.20" rx="3.89" ry="3.89" fill="url(#cyg)" stroke="#1a7fb4" stroke-width="0.85"/>
<text x="354.50" y="66.80" font-size="4.6" text-anchor="middle" fill="#0d5c86" stroke="#0d5c86" stroke-width="0.1" >SH2</text>
<rect x="367.80" y="59.30" width="8.0" height="20.40" rx="4.00" ry="5.00" fill="url(#cyg)" stroke="#1a7fb4" stroke-width="0.85"/>
<text x="373.30" y="69.50" font-size="4.2" text-anchor="middle" fill="#0d5c86" stroke="#0d5c86" stroke-width="0.1" transform="rotate(90 373.30 69.50)" >Kinase</text>
<circle cx="354.00" cy="73.20" r="3.0" fill="#4b1a66" stroke="#2a0a3a" stroke-width="0.4"/>
<text x="354.00" y="74.65" font-size="4.0" text-anchor="middle" fill="#fff" stroke="#fff" stroke-width="0.22" font-weight="bold" >P</text>
<line x1="356.20" y1="75.70" x2="359.60" y2="79.70" stroke="#5b4a42" stroke-width="0.7"/>
<text x="360.40" y="83.90" font-size="5.2" text-anchor="middle" fill="#444" stroke="#444" stroke-width="0.1" >Y</text>
<text x="363.00" y="75.10" font-size="5.2" text-anchor="middle" fill="#444" stroke="#444" stroke-width="0.1" >Y</text>
<line x1="364.80" y1="73.10" x2="367.80" y2="73.10" stroke="#5b4a42" stroke-width="0.6"/>
<line x1="427.30" y1="44.80" x2="427.30" y2="113.00" stroke="#5b4a42" stroke-width="0.8"/>
<rect x="423.20" y="47.40" width="8.2" height="15.60" rx="4.10" ry="5.94" fill="url(#cyg)" stroke="#1a7fb4" stroke-width="0.85"/>
<text x="428.80" y="55.20" font-size="4.4" text-anchor="middle" fill="#0d5c86" stroke="#0d5c86" stroke-width="0.1" transform="rotate(90 428.80 55.20)" >SH3</text>
<rect x="423.20" y="67.00" width="8.2" height="17.20" rx="4.10" ry="5.94" fill="url(#cyg)" stroke="#1a7fb4" stroke-width="0.85"/>
<text x="428.80" y="75.60" font-size="4.4" text-anchor="middle" fill="#0d5c86" stroke="#0d5c86" stroke-width="0.1" transform="rotate(90 428.80 75.60)" >SH2</text>
<rect x="423.20" y="87.50" width="8.2" height="21.20" rx="4.10" ry="5.12" fill="url(#cyg)" stroke="#1a7fb4" stroke-width="0.85"/>
<text x="428.80" y="98.10" font-size="4.2" text-anchor="middle" fill="#0d5c86" stroke="#0d5c86" stroke-width="0.1" transform="rotate(90 428.80 98.10)" >Kinase</text>
<line x1="431.40" y1="97.80" x2="433.80" y2="97.80" stroke="#5b4a42" stroke-width="0.6"/>
<text x="435.90" y="99.70" font-size="5.2" text-anchor="middle" fill="#444" stroke="#444" stroke-width="0.1" >Y</text>
<text x="422.30" y="113.10" font-size="5.2" text-anchor="middle" fill="#444" stroke="#444" stroke-width="0.1" >Y</text>
<line x1="424.10" y1="111.20" x2="427.30" y2="111.20" stroke="#5b4a42" stroke-width="0.6"/>
<line x1="484.40" y1="44.80" x2="484.40" y2="113.00" stroke="#5b4a42" stroke-width="0.8"/>
<rect x="480.30" y="47.40" width="8.2" height="15.60" rx="4.10" ry="5.94" fill="url(#cyg)" stroke="#1a7fb4" stroke-width="0.85"/>
<text x="485.90" y="55.20" font-size="4.4" text-anchor="middle" fill="#0d5c86" stroke="#0d5c86" stroke-width="0.1" transform="rotate(90 485.90 55.20)" >SH3</text>
<rect x="480.30" y="67.00" width="8.2" height="17.20" rx="4.10" ry="5.94" fill="url(#cyg)" stroke="#1a7fb4" stroke-width="0.85"/>
<text x="485.90" y="75.60" font-size="4.4" text-anchor="middle" fill="#0d5c86" stroke="#0d5c86" stroke-width="0.1" transform="rotate(90 485.90 75.60)" >SH2</text>
<rect x="480.30" y="87.50" width="8.2" height="21.20" rx="4.10" ry="5.12" fill="url(#cyg)" stroke="#1a7fb4" stroke-width="0.85"/>
<text x="485.90" y="98.10" font-size="4.2" text-anchor="middle" fill="#0d5c86" stroke="#0d5c86" stroke-width="0.1" transform="rotate(90 485.90 98.10)" >Kinase</text>
<line x1="488.50" y1="97.80" x2="490.90" y2="97.80" stroke="#5b4a42" stroke-width="0.6"/>
<text x="493.00" y="99.70" font-size="5.2" text-anchor="middle" fill="#444" stroke="#444" stroke-width="0.1" >Y</text>
<text x="479.40" y="113.10" font-size="5.2" text-anchor="middle" fill="#444" stroke="#444" stroke-width="0.1" >Y</text>
<line x1="481.20" y1="111.20" x2="484.40" y2="111.20" stroke="#5b4a42" stroke-width="0.6"/>
<line x1="495.20" y1="97.80" x2="500.00" y2="97.80" stroke="#5b4a42" stroke-width="0.7"/>
<circle cx="503.00" cy="97.80" r="3.0" fill="#4b1a66" stroke="#2a0a3a" stroke-width="0.4"/>
<text x="503.00" y="99.25" font-size="4.0" text-anchor="middle" fill="#fff" stroke="#fff" stroke-width="0.22" font-weight="bold" >P</text>
<text x="367.30" y="97.50" font-size="6.8" text-anchor="middle" fill="#333" stroke="#333" stroke-width="0.22" textLength="10.5" lengthAdjust="spacingAndGlyphs" >SFK</text>
<text x="367.30" y="104.30" font-size="6.8" text-anchor="middle" fill="#333" stroke="#333" stroke-width="0.22" font-style="italic" textLength="20" lengthAdjust="spacingAndGlyphs" >Inactive</text>
<text x="427.30" y="123.20" font-size="6.8" text-anchor="middle" fill="#333" stroke="#333" stroke-width="0.22" textLength="10.5" lengthAdjust="spacingAndGlyphs" >SFK</text>
<text x="427.30" y="130.00" font-size="6.8" text-anchor="middle" fill="#333" stroke="#333" stroke-width="0.22" font-style="italic" textLength="16.5" lengthAdjust="spacingAndGlyphs" >Active</text>
<text x="484.40" y="123.20" font-size="6.8" text-anchor="middle" fill="#333" stroke="#333" stroke-width="0.22" textLength="10.5" lengthAdjust="spacingAndGlyphs" >SFK</text>
<text x="484.40" y="130.00" font-size="6.8" text-anchor="middle" fill="#333" stroke="#333" stroke-width="0.22" font-style="italic" textLength="29.5" lengthAdjust="spacingAndGlyphs" >Fully active</text>
<line x1="380.40" y1="63.50" x2="416.00" y2="63.50" stroke="#2a2a2a" stroke-width="0.9"/>
<path d="M418.30,63.50 L415.50,62.00 L415.50,65.00 Z" fill="#2a2a2a"/>
<text x="399.50" y="61.70" font-size="5.7" text-anchor="middle" fill="#333" stroke="#333" stroke-width="0.22" textLength="16" lengthAdjust="spacingAndGlyphs" >CD148</text>
<line x1="382.70" y1="68.70" x2="418.30" y2="68.70" stroke="#2a2a2a" stroke-width="0.9"/>
<path d="M380.40,68.70 L383.20,67.20 L383.20,70.20 Z" fill="#2a2a2a"/>
<text x="399.50" y="75.30" font-size="5.7" text-anchor="middle" fill="#333" stroke="#333" stroke-width="0.22" textLength="9" lengthAdjust="spacingAndGlyphs" >Csk</text>
<line x1="436.50" y1="63.50" x2="472.70" y2="63.50" stroke="#2a2a2a" stroke-width="0.9"/>
<path d="M475.00,63.50 L472.20,62.00 L472.20,65.00 Z" fill="#2a2a2a"/>
<text x="456.20" y="61.70" font-size="5.7" text-anchor="middle" fill="#333" stroke="#333" stroke-width="0.22" textLength="24" lengthAdjust="spacingAndGlyphs" >Src kinase</text>
<line x1="438.80" y1="68.70" x2="475.00" y2="68.70" stroke="#2a2a2a" stroke-width="0.9"/>
<path d="M436.50,68.70 L439.30,67.20 L439.30,70.20 Z" fill="#2a2a2a"/>
<text x="456.20" y="75.30" font-size="5.7" text-anchor="middle" fill="#333" stroke="#333" stroke-width="0.22" textLength="16" lengthAdjust="spacingAndGlyphs" >CD148</text>
<text x="344.00" y="140.70" font-size="7.2" text-anchor="start" fill="#111" stroke="#111" stroke-width="0.22" font-weight="bold" textLength="22.2" lengthAdjust="spacingAndGlyphs" >Csk KO</text>
<rect x="344.0" y="145.0" width="168" height="95.5" fill="url(#pinkg)"/>
<rect x="344.0" y="145.0" width="168" height="8.6" fill="url(#memg)"/>
<line x1="368.30" y1="153.30" x2="368.30" y2="156.50" stroke="#5b4a42" stroke-width="0.8"/>
<path d="M360.00,159.80 H354.70 V170.00" fill="none" stroke="#5b4a42" stroke-width="0.8"/>
<path d="M362.60,174.00 H365.70 V163.50" fill="none" stroke="#5b4a42" stroke-width="0.8"/>
<path d="M371.30,163.50 V168.00" fill="none" stroke="#5b4a42" stroke-width="0.8"/>
<path d="M371.60,187.00 V194.50 H358.80" fill="none" stroke="#5b4a42" stroke-width="0.8"/>
<line x1="362.60" y1="191.50" x2="362.60" y2="194.50" stroke="#5b4a42" stroke-width="0.7"/>
<rect x="359.60" y="156.40" width="16.40" height="7.60" rx="3.61" ry="3.61" fill="url(#grg)" stroke="#505050" stroke-width="0.85"/>
<text x="367.80" y="161.80" font-size="4.6" text-anchor="middle" fill="#333" stroke="#333" stroke-width="0.1" >SH3</text>
<rect x="346.50" y="169.60" width="16.00" height="8.20" rx="3.89" ry="3.89" fill="url(#grg)" stroke="#505050" stroke-width="0.85"/>
<text x="354.50" y="175.30" font-size="4.6" text-anchor="middle" fill="#333" stroke="#333" stroke-width="0.1" >SH2</text>
<rect x="367.80" y="167.80" width="8.0" height="20.40" rx="4.00" ry="5.00" fill="url(#grg)" stroke="#505050" stroke-width="0.85"/>
<text x="373.30" y="178.00" font-size="4.2" text-anchor="middle" fill="#333" stroke="#333" stroke-width="0.1" transform="rotate(90 373.30 178.00)" >Kinase</text>
<circle cx="354.00" cy="181.70" r="3.0" fill="#4b1a66" stroke="#2a0a3a" stroke-width="0.4"/>
<text x="354.00" y="183.15" font-size="4.0" text-anchor="middle" fill="#fff" stroke="#fff" stroke-width="0.22" font-weight="bold" >P</text>
<line x1="356.20" y1="184.20" x2="359.60" y2="188.20" stroke="#5b4a42" stroke-width="0.7"/>
<text x="360.40" y="192.40" font-size="5.2" text-anchor="middle" fill="#444" stroke="#444" stroke-width="0.1" >Y</text>
<text x="363.00" y="183.60" font-size="5.2" text-anchor="middle" fill="#444" stroke="#444" stroke-width="0.1" >Y</text>
<line x1="364.80" y1="181.60" x2="367.80" y2="181.60" stroke="#5b4a42" stroke-width="0.6"/>
<line x1="427.30" y1="153.30" x2="427.30" y2="221.50" stroke="#5b4a42" stroke-width="0.8"/>
<rect x="423.20" y="155.90" width="8.2" height="15.60" rx="4.10" ry="5.94" fill="url(#cyg)" stroke="#1a7fb4" stroke-width="0.85"/>
<text x="428.80" y="163.70" font-size="4.4" text-anchor="middle" fill="#0d5c86" stroke="#0d5c86" stroke-width="0.1" transform="rotate(90 428.80 163.70)" >SH3</text>
<rect x="423.20" y="175.50" width="8.2" height="17.20" rx="4.10" ry="5.94" fill="url(#cyg)" stroke="#1a7fb4" stroke-width="0.85"/>
<text x="428.80" y="184.10" font-size="4.4" text-anchor="middle" fill="#0d5c86" stroke="#0d5c86" stroke-width="0.1" transform="rotate(90 428.80 184.10)" >SH2</text>
<rect x="423.20" y="196.00" width="8.2" height="21.20" rx="4.10" ry="5.12" fill="url(#cyg)" stroke="#1a7fb4" stroke-width="0.85"/>
<text x="428.80" y="206.60" font-size="4.2" text-anchor="middle" fill="#0d5c86" stroke="#0d5c86" stroke-width="0.1" transform="rotate(90 428.80 206.60)" >Kinase</text>
<line x1="431.40" y1="206.30" x2="433.80" y2="206.30" stroke="#5b4a42" stroke-width="0.6"/>
<text x="435.90" y="208.20" font-size="5.2" text-anchor="middle" fill="#444" stroke="#444" stroke-width="0.1" >Y</text>
<text x="422.30" y="221.60" font-size="5.2" text-anchor="middle" fill="#444" stroke="#444" stroke-width="0.1" >Y</text>
<line x1="424.10" y1="219.70" x2="427.30" y2="219.70" stroke="#5b4a42" stroke-width="0.6"/>
<line x1="484.40" y1="153.30" x2="484.40" y2="221.50" stroke="#5b4a42" stroke-width="0.8"/>
<rect x="480.30" y="155.90" width="8.2" height="15.60" rx="4.10" ry="5.94" fill="url(#grg)" stroke="#505050" stroke-width="0.85"/>
<text x="485.90" y="163.70" font-size="4.4" text-anchor="middle" fill="#333" stroke="#333" stroke-width="0.1" transform="rotate(90 485.90 163.70)" >SH3</text>
<rect x="480.30" y="175.50" width="8.2" height="17.20" rx="4.10" ry="5.94" fill="url(#grg)" stroke="#505050" stroke-width="0.85"/>
<text x="485.90" y="184.10" font-size="4.4" text-anchor="middle" fill="#333" stroke="#333" stroke-width="0.1" transform="rotate(90 485.90 184.10)" >SH2</text>
<rect x="480.30" y="196.00" width="8.2" height="21.20" rx="4.10" ry="5.12" fill="url(#grg)" stroke="#505050" stroke-width="0.85"/>
<text x="485.90" y="206.60" font-size="4.2" text-anchor="middle" fill="#333" stroke="#333" stroke-width="0.1" transform="rotate(90 485.90 206.60)" >Kinase</text>
<line x1="488.50" y1="206.30" x2="490.90" y2="206.30" stroke="#5b4a42" stroke-width="0.6"/>
<text x="493.00" y="208.20" font-size="5.2" text-anchor="middle" fill="#444" stroke="#444" stroke-width="0.1" >Y</text>
<text x="479.40" y="221.60" font-size="5.2" text-anchor="middle" fill="#444" stroke="#444" stroke-width="0.1" >Y</text>
<line x1="481.20" y1="219.70" x2="484.40" y2="219.70" stroke="#5b4a42" stroke-width="0.6"/>
<line x1="495.20" y1="206.30" x2="500.00" y2="206.30" stroke="#5b4a42" stroke-width="0.7"/>
<circle cx="503.00" cy="206.30" r="3.0" fill="#4b1a66" stroke="#2a0a3a" stroke-width="0.4"/>
<text x="503.00" y="207.75" font-size="4.0" text-anchor="middle" fill="#fff" stroke="#fff" stroke-width="0.22" font-weight="bold" >P</text>
<text x="367.30" y="206.00" font-size="6.8" text-anchor="middle" fill="#333" stroke="#333" stroke-width="0.22" textLength="10.5" lengthAdjust="spacingAndGlyphs" >SFK</text>
<text x="367.30" y="212.80" font-size="6.8" text-anchor="middle" fill="#333" stroke="#333" stroke-width="0.22" font-style="italic" textLength="20" lengthAdjust="spacingAndGlyphs" >Inactive</text>
<text x="427.30" y="231.70" font-size="6.8" text-anchor="middle" fill="#2a86d0" stroke="#2a86d0" stroke-width="0.22" textLength="10.5" lengthAdjust="spacingAndGlyphs" >SFK</text>
<text x="427.30" y="238.50" font-size="6.8" text-anchor="middle" fill="#2a86d0" stroke="#2a86d0" stroke-width="0.22" font-weight="bold" font-style="italic" textLength="16.5" lengthAdjust="spacingAndGlyphs" >Active</text>
<text x="484.40" y="231.70" font-size="6.8" text-anchor="middle" fill="#333" stroke="#333" stroke-width="0.22" textLength="10.5" lengthAdjust="spacingAndGlyphs" >SFK</text>
<text x="484.40" y="238.50" font-size="6.8" text-anchor="middle" fill="#333" stroke="#333" stroke-width="0.22" font-style="italic" textLength="29.5" lengthAdjust="spacingAndGlyphs" >Fully active</text>
<line x1="380.40" y1="172.00" x2="414.80" y2="172.00" stroke="#2a86d0" stroke-width="2.4"/>
<path d="M418.30,172.00 L414.30,169.30 L414.30,174.70 Z" fill="#2a86d0"/>
<text x="399.50" y="170.20" font-size="5.7" text-anchor="middle" fill="#2a86d0" stroke="#2a86d0" stroke-width="0.22" font-weight="bold" textLength="16" lengthAdjust="spacingAndGlyphs" >CD148</text>
<line x1="382.70" y1="177.20" x2="418.30" y2="177.20" stroke="#8a8a8a" stroke-width="0.9"/>
<path d="M380.40,177.20 L383.20,175.70 L383.20,178.70 Z" fill="#8a8a8a"/>
<text x="399.50" y="183.80" font-size="5.7" text-anchor="middle" fill="#aaa" stroke="#aaa" stroke-width="0.22" textLength="9" lengthAdjust="spacingAndGlyphs" >Csk</text>
<path d="M397.10,178.50 L401.90,185.10 M401.90,178.50 L397.10,185.10" stroke="#d8262a" stroke-width="1.1" fill="none"/>
<line x1="436.50" y1="172.00" x2="472.70" y2="172.00" stroke="#2a2a2a" stroke-width="0.9"/>
<path d="M475.00,172.00 L472.20,170.50 L472.20,173.50 Z" fill="#2a2a2a"/>
<text x="456.20" y="170.20" font-size="5.7" text-anchor="middle" fill="#333" stroke="#333" stroke-width="0.22" textLength="24" lengthAdjust="spacingAndGlyphs" >Src kinase</text>
<line x1="440.00" y1="177.20" x2="475.00" y2="177.20" stroke="#2a86d0" stroke-width="2.4"/>
<path d="M436.50,177.20 L440.50,174.50 L440.50,179.90 Z" fill="#2a86d0"/>
<text x="456.20" y="183.80" font-size="5.7" text-anchor="middle" fill="#2a86d0" stroke="#2a86d0" stroke-width="0.22" font-weight="bold" textLength="16" lengthAdjust="spacingAndGlyphs" >CD148</text>
<text x="344.00" y="249.70" font-size="7.2" text-anchor="start" fill="#111" stroke="#111" stroke-width="0.22" font-weight="bold" textLength="31.9" lengthAdjust="spacingAndGlyphs" >CD148 KO</text>
<rect x="344.0" y="254.0" width="168" height="95.5" fill="url(#pinkg)"/>
<rect x="344.0" y="254.0" width="168" height="8.6" fill="url(#memg)"/>
<line x1="368.30" y1="262.30" x2="368.30" y2="265.50" stroke="#5b4a42" stroke-width="0.8"/>
<path d="M360.00,268.80 H354.70 V279.00" fill="none" stroke="#5b4a42" stroke-width="0.8"/>
<path d="M362.60,283.00 H365.70 V272.50" fill="none" stroke="#5b4a42" stroke-width="0.8"/>
<path d="M371.30,272.50 V277.00" fill="none" stroke="#5b4a42" stroke-width="0.8"/>
<path d="M371.60,296.00 V303.50 H358.80" fill="none" stroke="#5b4a42" stroke-width="0.8"/>
<line x1="362.60" y1="300.50" x2="362.60" y2="303.50" stroke="#5b4a42" stroke-width="0.7"/>
<rect x="359.60" y="265.40" width="16.40" height="7.60" rx="3.61" ry="3.61" fill="url(#cyg)" stroke="#1a7fb4" stroke-width="0.85"/>
<text x="367.80" y="270.80" font-size="4.6" text-anchor="middle" fill="#0d5c86" stroke="#0d5c86" stroke-width="0.1" >SH3</text>
<rect x="346.50" y="278.60" width="16.00" height="8.20" rx="3.89" ry="3.89" fill="url(#cyg)" stroke="#1a7fb4" stroke-width="0.85"/>
<text x="354.50" y="284.30" font-size="4.6" text-anchor="middle" fill="#0d5c86" stroke="#0d5c86" stroke-width="0.1" >SH2</text>
<rect x="367.80" y="276.80" width="8.0" height="20.40" rx="4.00" ry="5.00" fill="url(#cyg)" stroke="#1a7fb4" stroke-width="0.85"/>
<text x="373.30" y="287.00" font-size="4.2" text-anchor="middle" fill="#0d5c86" stroke="#0d5c86" stroke-width="0.1" transform="rotate(90 373.30 287.00)" >Kinase</text>
<circle cx="354.00" cy="290.70" r="3.0" fill="#4b1a66" stroke="#2a0a3a" stroke-width="0.4"/>
<text x="354.00" y="292.15" font-size="4.0" text-anchor="middle" fill="#fff" stroke="#fff" stroke-width="0.22" font-weight="bold" >P</text>
<line x1="356.20" y1="293.20" x2="359.60" y2="297.20" stroke="#5b4a42" stroke-width="0.7"/>
<text x="360.40" y="301.40" font-size="5.2" text-anchor="middle" fill="#444" stroke="#444" stroke-width="0.1" >Y</text>
<text x="363.00" y="292.60" font-size="5.2" text-anchor="middle" fill="#444" stroke="#444" stroke-width="0.1" >Y</text>
<line x1="364.80" y1="290.60" x2="367.80" y2="290.60" stroke="#5b4a42" stroke-width="0.6"/>
<line x1="427.30" y1="262.30" x2="427.30" y2="330.50" stroke="#5b4a42" stroke-width="0.8"/>
<rect x="423.20" y="264.90" width="8.2" height="15.60" rx="4.10" ry="5.94" fill="url(#grg)" stroke="#505050" stroke-width="0.85"/>
<text x="428.80" y="272.70" font-size="4.4" text-anchor="middle" fill="#333" stroke="#333" stroke-width="0.1" transform="rotate(90 428.80 272.70)" >SH3</text>
<rect x="423.20" y="284.50" width="8.2" height="17.20" rx="4.10" ry="5.94" fill="url(#grg)" stroke="#505050" stroke-width="0.85"/>
<text x="428.80" y="293.10" font-size="4.4" text-anchor="middle" fill="#333" stroke="#333" stroke-width="0.1" transform="rotate(90 428.80 293.10)" >SH2</text>
<rect x="423.20" y="305.00" width="8.2" height="21.20" rx="4.10" ry="5.12" fill="url(#grg)" stroke="#505050" stroke-width="0.85"/>
<text x="428.80" y="315.60" font-size="4.2" text-anchor="middle" fill="#333" stroke="#333" stroke-width="0.1" transform="rotate(90 428.80 315.60)" >Kinase</text>
<line x1="431.40" y1="315.30" x2="433.80" y2="315.30" stroke="#5b4a42" stroke-width="0.6"/>
<text x="435.90" y="317.20" font-size="5.2" text-anchor="middle" fill="#444" stroke="#444" stroke-width="0.1" >Y</text>
<text x="422.30" y="330.60" font-size="5.2" text-anchor="middle" fill="#444" stroke="#444" stroke-width="0.1" >Y</text>
<line x1="424.10" y1="328.70" x2="427.30" y2="328.70" stroke="#5b4a42" stroke-width="0.6"/>
<line x1="484.40" y1="262.30" x2="484.40" y2="330.50" stroke="#5b4a42" stroke-width="0.8"/>
<rect x="480.30" y="264.90" width="8.2" height="15.60" rx="4.10" ry="5.94" fill="url(#grg)" stroke="#505050" stroke-width="0.85"/>
<text x="485.90" y="272.70" font-size="4.4" text-anchor="middle" fill="#333" stroke="#333" stroke-width="0.1" transform="rotate(90 485.90 272.70)" >SH3</text>
<rect x="480.30" y="284.50" width="8.2" height="17.20" rx="4.10" ry="5.94" fill="url(#grg)" stroke="#505050" stroke-width="0.85"/>
<text x="485.90" y="293.10" font-size="4.4" text-anchor="middle" fill="#333" stroke="#333" stroke-width="0.1" transform="rotate(90 485.90 293.10)" >SH2</text>
<rect x="480.30" y="305.00" width="8.2" height="21.20" rx="4.10" ry="5.12" fill="url(#grg)" stroke="#505050" stroke-width="0.85"/>
<text x="485.90" y="315.60" font-size="4.2" text-anchor="middle" fill="#333" stroke="#333" stroke-width="0.1" transform="rotate(90 485.90 315.60)" >Kinase</text>
<line x1="488.50" y1="315.30" x2="490.90" y2="315.30" stroke="#5b4a42" stroke-width="0.6"/>
<text x="493.00" y="317.20" font-size="5.2" text-anchor="middle" fill="#444" stroke="#444" stroke-width="0.1" >Y</text>
<text x="479.40" y="330.60" font-size="5.2" text-anchor="middle" fill="#444" stroke="#444" stroke-width="0.1" >Y</text>
<line x1="481.20" y1="328.70" x2="484.40" y2="328.70" stroke="#5b4a42" stroke-width="0.6"/>
<line x1="495.20" y1="315.30" x2="500.00" y2="315.30" stroke="#5b4a42" stroke-width="0.7"/>
<circle cx="503.00" cy="315.30" r="3.0" fill="#4b1a66" stroke="#2a0a3a" stroke-width="0.4"/>
<text x="503.00" y="316.75" font-size="4.0" text-anchor="middle" fill="#fff" stroke="#fff" stroke-width="0.22" font-weight="bold" >P</text>
<text x="367.30" y="315.00" font-size="6.8" text-anchor="middle" fill="#2a86d0" stroke="#2a86d0" stroke-width="0.22" textLength="10.5" lengthAdjust="spacingAndGlyphs" >SFK</text>
<text x="367.30" y="321.80" font-size="6.8" text-anchor="middle" fill="#2a86d0" stroke="#2a86d0" stroke-width="0.22" font-weight="bold" font-style="italic" textLength="20" lengthAdjust="spacingAndGlyphs" >Inactive</text>
<text x="427.30" y="340.70" font-size="6.8" text-anchor="middle" fill="#333" stroke="#333" stroke-width="0.22" textLength="10.5" lengthAdjust="spacingAndGlyphs" >SFK</text>
<text x="427.30" y="347.50" font-size="6.8" text-anchor="middle" fill="#333" stroke="#333" stroke-width="0.22" font-style="italic" textLength="16.5" lengthAdjust="spacingAndGlyphs" >Active</text>
<text x="484.40" y="340.70" font-size="6.8" text-anchor="middle" fill="#333" stroke="#333" stroke-width="0.22" textLength="10.5" lengthAdjust="spacingAndGlyphs" >SFK</text>
<text x="484.40" y="347.50" font-size="6.8" text-anchor="middle" fill="#333" stroke="#333" stroke-width="0.22" font-style="italic" textLength="29.5" lengthAdjust="spacingAndGlyphs" >Fully active</text>
<line x1="380.40" y1="281.00" x2="416.00" y2="281.00" stroke="#8a8a8a" stroke-width="0.9"/>
<path d="M418.30,281.00 L415.50,279.50 L415.50,282.50 Z" fill="#8a8a8a"/>
<text x="399.50" y="279.20" font-size="5.7" text-anchor="middle" fill="#aaa" stroke="#aaa" stroke-width="0.22" textLength="16" lengthAdjust="spacingAndGlyphs" >CD148</text>
<path d="M397.10,273.90 L401.90,280.50 M401.90,273.90 L397.10,280.50" stroke="#d8262a" stroke-width="1.1" fill="none"/>
<line x1="383.90" y1="286.20" x2="418.30" y2="286.20" stroke="#2a86d0" stroke-width="2.4"/>
<path d="M380.40,286.20 L384.40,283.50 L384.40,288.90 Z" fill="#2a86d0"/>
<text x="399.50" y="292.80" font-size="5.7" text-anchor="middle" fill="#2a86d0" stroke="#2a86d0" stroke-width="0.22" font-weight="bold" textLength="9" lengthAdjust="spacingAndGlyphs" >Csk</text>
<line x1="436.50" y1="281.00" x2="472.70" y2="281.00" stroke="#2a2a2a" stroke-width="0.9"/>
<path d="M475.00,281.00 L472.20,279.50 L472.20,282.50 Z" fill="#2a2a2a"/>
<text x="456.20" y="279.20" font-size="5.7" text-anchor="middle" fill="#333" stroke="#333" stroke-width="0.22" textLength="24" lengthAdjust="spacingAndGlyphs" >Src kinase</text>
<line x1="438.80" y1="286.20" x2="475.00" y2="286.20" stroke="#8a8a8a" stroke-width="0.9"/>
<path d="M436.50,286.20 L439.30,284.70 L439.30,287.70 Z" fill="#8a8a8a"/>
<text x="456.20" y="292.80" font-size="5.7" text-anchor="middle" fill="#aaa" stroke="#aaa" stroke-width="0.22" textLength="16" lengthAdjust="spacingAndGlyphs" >CD148</text>
<path d="M453.80,287.50 L458.60,294.10 M458.60,287.50 L453.80,294.10" stroke="#d8262a" stroke-width="1.1" fill="none"/>
<text x="344.00" y="357.70" font-size="7.2" text-anchor="start" fill="#111" stroke="#111" stroke-width="0.22" font-weight="bold" textLength="14.6" lengthAdjust="spacingAndGlyphs" >DKO</text>
<rect x="344.0" y="362.0" width="168" height="95.5" fill="url(#pinkg)"/>
<rect x="344.0" y="362.0" width="168" height="8.6" fill="url(#memg)"/>
<line x1="368.30" y1="370.30" x2="368.30" y2="373.50" stroke="#5b4a42" stroke-width="0.8"/>
<path d="M360.00,376.80 H354.70 V387.00" fill="none" stroke="#5b4a42" stroke-width="0.8"/>
<path d="M362.60,391.00 H365.70 V380.50" fill="none" stroke="#5b4a42" stroke-width="0.8"/>
<path d="M371.30,380.50 V385.00" fill="none" stroke="#5b4a42" stroke-width="0.8"/>
<path d="M371.60,404.00 V411.50 H358.80" fill="none" stroke="#5b4a42" stroke-width="0.8"/>
<line x1="362.60" y1="408.50" x2="362.60" y2="411.50" stroke="#5b4a42" stroke-width="0.7"/>
<rect x="359.60" y="373.40" width="16.40" height="7.60" rx="3.61" ry="3.61" fill="url(#grg)" stroke="#505050" stroke-width="0.85"/>
<text x="367.80" y="378.80" font-size="4.6" text-anchor="middle" fill="#333" stroke="#333" stroke-width="0.1" >SH3</text>
<rect x="346.50" y="386.60" width="16.00" height="8.20" rx="3.89" ry="3.89" fill="url(#grg)" stroke="#505050" stroke-width="0.85"/>
<text x="354.50" y="392.30" font-size="4.6" text-anchor="middle" fill="#333" stroke="#333" stroke-width="0.1" >SH2</text>
<rect x="367.80" y="384.80" width="8.0" height="20.40" rx="4.00" ry="5.00" fill="url(#grg)" stroke="#505050" stroke-width="0.85"/>
<text x="373.30" y="395.00" font-size="4.2" text-anchor="middle" fill="#333" stroke="#333" stroke-width="0.1" transform="rotate(90 373.30 395.00)" >Kinase</text>
<circle cx="354.00" cy="398.70" r="3.0" fill="#4b1a66" stroke="#2a0a3a" stroke-width="0.4"/>
<text x="354.00" y="400.15" font-size="4.0" text-anchor="middle" fill="#fff" stroke="#fff" stroke-width="0.22" font-weight="bold" >P</text>
<line x1="356.20" y1="401.20" x2="359.60" y2="405.20" stroke="#5b4a42" stroke-width="0.7"/>
<text x="360.40" y="409.40" font-size="5.2" text-anchor="middle" fill="#444" stroke="#444" stroke-width="0.1" >Y</text>
<text x="363.00" y="400.60" font-size="5.2" text-anchor="middle" fill="#444" stroke="#444" stroke-width="0.1" >Y</text>
<line x1="364.80" y1="398.60" x2="367.80" y2="398.60" stroke="#5b4a42" stroke-width="0.6"/>
<line x1="427.30" y1="370.30" x2="427.30" y2="438.50" stroke="#5b4a42" stroke-width="0.8"/>
<rect x="423.20" y="372.90" width="8.2" height="15.60" rx="4.10" ry="5.94" fill="url(#grg)" stroke="#505050" stroke-width="0.85"/>
<text x="428.80" y="380.70" font-size="4.4" text-anchor="middle" fill="#333" stroke="#333" stroke-width="0.1" transform="rotate(90 428.80 380.70)" >SH3</text>
<rect x="423.20" y="392.50" width="8.2" height="17.20" rx="4.10" ry="5.94" fill="url(#grg)" stroke="#505050" stroke-width="0.85"/>
<text x="428.80" y="401.10" font-size="4.4" text-anchor="middle" fill="#333" stroke="#333" stroke-width="0.1" transform="rotate(90 428.80 401.10)" >SH2</text>
<rect x="423.20" y="413.00" width="8.2" height="21.20" rx="4.10" ry="5.12" fill="url(#grg)" stroke="#505050" stroke-width="0.85"/>
<text x="428.80" y="423.60" font-size="4.2" text-anchor="middle" fill="#333" stroke="#333" stroke-width="0.1" transform="rotate(90 428.80 423.60)" >Kinase</text>
<line x1="431.40" y1="423.30" x2="433.80" y2="423.30" stroke="#5b4a42" stroke-width="0.6"/>
<text x="435.90" y="425.20" font-size="5.2" text-anchor="middle" fill="#444" stroke="#444" stroke-width="0.1" >Y</text>
<text x="422.30" y="438.60" font-size="5.2" text-anchor="middle" fill="#444" stroke="#444" stroke-width="0.1" >Y</text>
<line x1="424.10" y1="436.70" x2="427.30" y2="436.70" stroke="#5b4a42" stroke-width="0.6"/>
<line x1="484.40" y1="370.30" x2="484.40" y2="438.50" stroke="#5b4a42" stroke-width="0.8"/>
<rect x="480.30" y="372.90" width="8.2" height="15.60" rx="4.10" ry="5.94" fill="url(#cyg)" stroke="#1a7fb4" stroke-width="0.85"/>
<text x="485.90" y="380.70" font-size="4.4" text-anchor="middle" fill="#0d5c86" stroke="#0d5c86" stroke-width="0.1" transform="rotate(90 485.90 380.70)" >SH3</text>
<rect x="480.30" y="392.50" width="8.2" height="17.20" rx="4.10" ry="5.94" fill="url(#cyg)" stroke="#1a7fb4" stroke-width="0.85"/>
<text x="485.90" y="401.10" font-size="4.4" text-anchor="middle" fill="#0d5c86" stroke="#0d5c86" stroke-width="0.1" transform="rotate(90 485.90 401.10)" >SH2</text>
<rect x="480.30" y="413.00" width="8.2" height="21.20" rx="4.10" ry="5.12" fill="url(#cyg)" stroke="#1a7fb4" stroke-width="0.85"/>
<text x="485.90" y="423.60" font-size="4.2" text-anchor="middle" fill="#0d5c86" stroke="#0d5c86" stroke-width="0.1" transform="rotate(90 485.90 423.60)" >Kinase</text>
<line x1="488.50" y1="423.30" x2="490.90" y2="423.30" stroke="#5b4a42" stroke-width="0.6"/>
<text x="493.00" y="425.20" font-size="5.2" text-anchor="middle" fill="#444" stroke="#444" stroke-width="0.1" >Y</text>
<text x="479.40" y="438.60" font-size="5.2" text-anchor="middle" fill="#444" stroke="#444" stroke-width="0.1" >Y</text>
<line x1="481.20" y1="436.70" x2="484.40" y2="436.70" stroke="#5b4a42" stroke-width="0.6"/>
<line x1="495.20" y1="423.30" x2="500.00" y2="423.30" stroke="#5b4a42" stroke-width="0.7"/>
<circle cx="503.00" cy="423.30" r="3.0" fill="#4b1a66" stroke="#2a0a3a" stroke-width="0.4"/>
<text x="503.00" y="424.75" font-size="4.0" text-anchor="middle" fill="#fff" stroke="#fff" stroke-width="0.22" font-weight="bold" >P</text>
<text x="367.30" y="423.00" font-size="6.8" text-anchor="middle" fill="#333" stroke="#333" stroke-width="0.22" textLength="10.5" lengthAdjust="spacingAndGlyphs" >SFK</text>
<text x="367.30" y="429.80" font-size="6.8" text-anchor="middle" fill="#333" stroke="#333" stroke-width="0.22" font-style="italic" textLength="20" lengthAdjust="spacingAndGlyphs" >Inactive</text>
<text x="427.30" y="448.70" font-size="6.8" text-anchor="middle" fill="#333" stroke="#333" stroke-width="0.22" textLength="10.5" lengthAdjust="spacingAndGlyphs" >SFK</text>
<text x="427.30" y="455.50" font-size="6.8" text-anchor="middle" fill="#333" stroke="#333" stroke-width="0.22" font-style="italic" textLength="16.5" lengthAdjust="spacingAndGlyphs" >Active</text>
<text x="484.40" y="448.70" font-size="6.8" text-anchor="middle" fill="#2a86d0" stroke="#2a86d0" stroke-width="0.22" textLength="10.5" lengthAdjust="spacingAndGlyphs" >SFK</text>
<text x="484.40" y="455.50" font-size="6.8" text-anchor="middle" fill="#2a86d0" stroke="#2a86d0" stroke-width="0.22" font-weight="bold" font-style="italic" textLength="29.5" lengthAdjust="spacingAndGlyphs" >Fully active</text>
<line x1="380.40" y1="389.00" x2="416.00" y2="389.00" stroke="#8a8a8a" stroke-width="0.9"/>
<path d="M418.30,389.00 L415.50,387.50 L415.50,390.50 Z" fill="#8a8a8a"/>
<text x="399.50" y="387.20" font-size="5.7" text-anchor="middle" fill="#aaa" stroke="#aaa" stroke-width="0.22" textLength="16" lengthAdjust="spacingAndGlyphs" >CD148</text>
<path d="M397.10,381.90 L401.90,388.50 M401.90,381.90 L397.10,388.50" stroke="#d8262a" stroke-width="1.1" fill="none"/>
<line x1="382.70" y1="394.20" x2="418.30" y2="394.20" stroke="#8a8a8a" stroke-width="0.9"/>
<path d="M380.40,394.20 L383.20,392.70 L383.20,395.70 Z" fill="#8a8a8a"/>
<text x="399.50" y="400.80" font-size="5.7" text-anchor="middle" fill="#aaa" stroke="#aaa" stroke-width="0.22" textLength="9" lengthAdjust="spacingAndGlyphs" >Csk</text>
<path d="M397.10,395.50 L401.90,402.10 M401.90,395.50 L397.10,402.10" stroke="#d8262a" stroke-width="1.1" fill="none"/>
<line x1="436.50" y1="389.00" x2="471.50" y2="389.00" stroke="#2a86d0" stroke-width="2.4"/>
<path d="M475.00,389.00 L471.00,386.30 L471.00,391.70 Z" fill="#2a86d0"/>
<text x="456.20" y="387.20" font-size="5.7" text-anchor="middle" fill="#2a86d0" stroke="#2a86d0" stroke-width="0.22" font-weight="bold" textLength="24" lengthAdjust="spacingAndGlyphs" >Src kinase</text>
<line x1="438.80" y1="394.20" x2="475.00" y2="394.20" stroke="#8a8a8a" stroke-width="0.9"/>
<path d="M436.50,394.20 L439.30,392.70 L439.30,395.70 Z" fill="#8a8a8a"/>
<text x="456.20" y="400.80" font-size="5.7" text-anchor="middle" fill="#aaa" stroke="#aaa" stroke-width="0.22" textLength="16" lengthAdjust="spacingAndGlyphs" >CD148</text>
<path d="M453.80,395.50 L458.60,402.10 M458.60,395.50 L453.80,402.10" stroke="#d8262a" stroke-width="1.1" fill="none"/>
<text x="23.70" y="518.40" font-size="9.0" text-anchor="middle" fill="#111" stroke="#111" stroke-width="0.22" font-weight="bold" >ii</text>
<text x="67.10" y="523.90" font-size="6.8" text-anchor="middle" fill="#2b2b2b" stroke="#2b2b2b" stroke-width="0.22" textLength="9.6" lengthAdjust="spacingAndGlyphs" >WT</text>
<text x="95.60" y="516.90" font-size="6.8" text-anchor="middle" fill="#2b2b2b" stroke="#2b2b2b" stroke-width="0.22" font-style="italic" textLength="11" lengthAdjust="spacingAndGlyphs" >Csk</text>
<text x="95.70" y="523.90" font-size="6.8" text-anchor="middle" fill="#2b2b2b" stroke="#2b2b2b" stroke-width="0.22" textLength="9.9" lengthAdjust="spacingAndGlyphs" >KO</text>
<text x="122.40" y="516.90" font-size="6.8" text-anchor="middle" fill="#2b2b2b" stroke="#2b2b2b" stroke-width="0.22" font-style="italic" textLength="20" lengthAdjust="spacingAndGlyphs" >CD148</text>
<text x="122.40" y="523.90" font-size="6.8" text-anchor="middle" fill="#2b2b2b" stroke="#2b2b2b" stroke-width="0.22" textLength="9.9" lengthAdjust="spacingAndGlyphs" >KO</text>
<text x="150.90" y="523.90" font-size="6.8" text-anchor="middle" fill="#2b2b2b" stroke="#2b2b2b" stroke-width="0.22" textLength="14.8" lengthAdjust="spacingAndGlyphs" >DKO</text>
<rect x="58.80" y="533.00" width="23.50" height="23.00" fill="url(#lg0)" filter="url(#bH)"/>
<rect x="85.30" y="534.00" width="24.00" height="21.00" fill="url(#lg1)" filter="url(#bH)"/>
<rect x="111.80" y="534.00" width="24.10" height="12.00" fill="url(#lg2)" filter="url(#bH)"/>
<rect x="138.90" y="532.30" width="23.70" height="22.70" fill="url(#lg3)" filter="url(#bH)"/>
<rect x="58.80" y="569.00" width="23.50" height="17.00" fill="url(#lg4)" filter="url(#bH)"/>
<rect x="85.30" y="579.00" width="24.00" height="3.00" fill="url(#lg5)" filter="url(#bH)"/>
<rect x="111.80" y="570.00" width="24.10" height="19.00" fill="url(#lg6)" filter="url(#bH)"/>
<rect x="138.90" y="571.00" width="23.70" height="17.00" fill="url(#lg7)" filter="url(#bH)"/>
<rect x="58.80" y="603.80" width="23.50" height="21.20" fill="url(#lg8)" filter="url(#bH)"/>
<rect x="85.30" y="603.50" width="24.00" height="15.50" fill="url(#lg9)" filter="url(#bH)"/>
<rect x="111.80" y="602.60" width="24.10" height="23.40" fill="url(#lg10)" filter="url(#bH)"/>
<rect x="138.90" y="603.90" width="23.70" height="16.10" fill="url(#lg11)" filter="url(#bH)"/>
<rect x="58.80" y="639.30" width="23.50" height="17.70" fill="url(#lg12)" filter="url(#bH)"/>
<rect x="85.30" y="634.50" width="24.00" height="22.50" fill="url(#lg13)" filter="url(#bH)"/>
<rect x="111.80" y="636.90" width="24.10" height="20.10" fill="url(#lg14)" filter="url(#bH)"/>
<rect x="138.90" y="638.80" width="23.70" height="16.20" fill="url(#lg15)" filter="url(#bH)"/>
<rect x="58.80" y="671.00" width="23.50" height="18.00" fill="url(#lg16)" filter="url(#bH)"/>
<rect x="85.30" y="671.00" width="24.00" height="16.50" fill="url(#lg17)" filter="url(#bH)"/>
<rect x="111.80" y="671.00" width="24.10" height="18.00" fill="url(#lg18)" filter="url(#bH)"/>
<rect x="138.90" y="672.00" width="23.70" height="18.00" fill="url(#lg19)" filter="url(#bH)"/>
<rect x="54.3" y="528.4" width="112.2" height="29.80" fill="none" stroke="#111" stroke-width="1.2"/>
<line x1="50.8" y1="531.30" x2="54.0" y2="531.30" stroke="#222" stroke-width="0.9"/>
<text x="45.10" y="533.70" font-size="6.7" text-anchor="middle" fill="#333" stroke="#333" stroke-width="0.22" textLength="6.9" lengthAdjust="spacingAndGlyphs" >66</text>
<text x="170.30" y="545.50" font-size="6.6" text-anchor="start" fill="#222" stroke="#222" stroke-width="0.22" textLength="36" lengthAdjust="spacingAndGlyphs" >Src p-Tyr418</text>
<rect x="54.3" y="562.7" width="112.2" height="29.90" fill="none" stroke="#111" stroke-width="1.2"/>
<line x1="50.8" y1="565.60" x2="54.0" y2="565.60" stroke="#222" stroke-width="0.9"/>
<text x="45.10" y="568.00" font-size="6.7" text-anchor="middle" fill="#333" stroke="#333" stroke-width="0.22" textLength="6.9" lengthAdjust="spacingAndGlyphs" >66</text>
<text x="170.30" y="579.85" font-size="6.6" text-anchor="start" fill="#222" stroke="#222" stroke-width="0.22" textLength="36" lengthAdjust="spacingAndGlyphs" >Lyn p-Tyr507</text>
<rect x="54.3" y="598.3" width="112.2" height="30.10" fill="none" stroke="#111" stroke-width="1.2"/>
<line x1="50.8" y1="601.20" x2="54.0" y2="601.20" stroke="#222" stroke-width="0.9"/>
<text x="45.10" y="603.60" font-size="6.7" text-anchor="middle" fill="#333" stroke="#333" stroke-width="0.22" textLength="6.9" lengthAdjust="spacingAndGlyphs" >66</text>
<text x="170.30" y="615.55" font-size="6.6" text-anchor="start" fill="#222" stroke="#222" stroke-width="0.22" textLength="36" lengthAdjust="spacingAndGlyphs" >Src p-Tyr529</text>
<rect x="54.3" y="632.5" width="112.2" height="28.30" fill="none" stroke="#111" stroke-width="1.2"/>
<line x1="50.8" y1="635.40" x2="54.0" y2="635.40" stroke="#222" stroke-width="0.9"/>
<text x="45.10" y="637.80" font-size="6.7" text-anchor="middle" fill="#333" stroke="#333" stroke-width="0.22" textLength="6.9" lengthAdjust="spacingAndGlyphs" >66</text>
<text x="170.30" y="648.85" font-size="6.6" text-anchor="start" fill="#222" stroke="#222" stroke-width="0.22" textLength="36" lengthAdjust="spacingAndGlyphs" >Fyn p-Tyr530</text>
<rect x="54.3" y="664.6" width="112.2" height="26.30" fill="none" stroke="#111" stroke-width="1.2"/>
<line x1="50.8" y1="667.50" x2="54.0" y2="667.50" stroke="#222" stroke-width="0.9"/>
<text x="45.10" y="669.90" font-size="6.7" text-anchor="middle" fill="#333" stroke="#333" stroke-width="0.22" textLength="6.9" lengthAdjust="spacingAndGlyphs" >66</text>
<text x="170.30" y="679.95" font-size="6.6" text-anchor="start" fill="#222" stroke="#222" stroke-width="0.22" >Src</text>
<text x="345.10" y="520.00" font-size="11.8" text-anchor="start" fill="#111" stroke="#111" stroke-width="0.22" font-weight="bold" >C</text>
<text x="381.70" y="524.20" font-size="6.8" text-anchor="middle" fill="#2b2b2b" stroke="#2b2b2b" stroke-width="0.22" textLength="9.6" lengthAdjust="spacingAndGlyphs" >WT</text>
<text x="404.60" y="517.60" font-size="6.8" text-anchor="middle" fill="#2b2b2b" stroke="#2b2b2b" stroke-width="0.22" textLength="11" lengthAdjust="spacingAndGlyphs" >Csk</text>
<text x="404.60" y="524.20" font-size="6.8" text-anchor="middle" fill="#2b2b2b" stroke="#2b2b2b" stroke-width="0.22" textLength="9.9" lengthAdjust="spacingAndGlyphs" >KO</text>
<text x="434.80" y="517.60" font-size="6.8" text-anchor="middle" fill="#2b2b2b" stroke="#2b2b2b" stroke-width="0.22" font-style="italic" textLength="20" lengthAdjust="spacingAndGlyphs" >CD148</text>
<text x="434.80" y="524.20" font-size="6.8" text-anchor="middle" fill="#2b2b2b" stroke="#2b2b2b" stroke-width="0.22" textLength="9.9" lengthAdjust="spacingAndGlyphs" >KO</text>
<text x="464.40" y="524.20" font-size="6.8" text-anchor="middle" fill="#2b2b2b" stroke="#2b2b2b" stroke-width="0.22" textLength="14.8" lengthAdjust="spacingAndGlyphs" >DKO</text>
<rect x="364.8" y="528.8" width="112.6" height="21.70" fill="#f5f5f5"/>
<rect x="364.8" y="554.5" width="112.6" height="18.50" fill="#f5f5f5"/>
<rect x="364.8" y="577.4" width="112.6" height="19.40" fill="#f5f5f5"/>
<rect x="364.8" y="601.9" width="112.6" height="16.70" fill="#f5f5f5"/>
<rect x="364.8" y="622.0" width="112.6" height="21.40" fill="#f5f5f5"/>
<rect x="370.00" y="537.25" width="22.00" height="5.50" rx="4.67" ry="2.75" fill="#e2e2e2" filter="url(#bC2)"/>
<rect x="398.50" y="536.80" width="18.50" height="6.00" rx="5.10" ry="3.00" fill="#8a8a8a" filter="url(#bC2)"/>
<rect x="425.50" y="537.25" width="18.50" height="5.50" rx="4.67" ry="2.75" fill="#c0c0c0" filter="url(#bC2)"/>
<rect x="449.50" y="536.10" width="24.50" height="7.00" rx="5.95" ry="3.50" fill="#747474" filter="url(#bC2)"/>
<rect x="371.00" y="560.10" width="20.20" height="5.80" rx="4.93" ry="2.90" fill="#0c0c0c" filter="url(#bC1)"/>
<rect x="397.00" y="560.10" width="19.70" height="5.80" rx="4.93" ry="2.90" fill="#0c0c0c" filter="url(#bC1)"/>
<rect x="423.00" y="560.10" width="20.70" height="5.80" rx="4.93" ry="2.90" fill="#0c0c0c" filter="url(#bC1)"/>
<rect x="449.90" y="560.10" width="22.00" height="5.80" rx="4.93" ry="2.90" fill="#0c0c0c" filter="url(#bC1)"/>
<rect x="369.00" y="584.90" width="22.20" height="5.00" rx="4.25" ry="2.50" fill="#0c0c0c" filter="url(#bC1)"/>
<rect x="393.80" y="585.60" width="23.70" height="6.80" rx="5.78" ry="3.40" fill="#0c0c0c" filter="url(#bC1)"/>
<rect x="422.10" y="584.50" width="20.80" height="4.40" rx="3.74" ry="2.20" fill="#0c0c0c" filter="url(#bC1)"/>
<rect x="447.20" y="583.80" width="23.40" height="5.00" rx="4.25" ry="2.50" fill="#0c0c0c" filter="url(#bC1)"/>
<rect x="370.20" y="607.30" width="23.60" height="6.60" rx="5.61" ry="3.30" fill="#0c0c0c" filter="url(#bC1)"/>
<rect x="394.40" y="608.30" width="24.10" height="7.00" rx="5.95" ry="3.50" fill="#0c0c0c" filter="url(#bC1)"/>
<rect x="420.20" y="607.40" width="23.00" height="5.80" rx="4.93" ry="2.90" fill="#0c0c0c" filter="url(#bC1)"/>
<rect x="445.00" y="606.90" width="27.00" height="6.80" rx="5.78" ry="3.40" fill="#0c0c0c" filter="url(#bC1)"/>
<rect x="371.00" y="628.90" width="20.70" height="6.00" rx="5.10" ry="3.00" fill="#242424" filter="url(#bC1)"/>
<rect x="397.90" y="628.90" width="21.50" height="6.00" rx="5.10" ry="3.00" fill="#242424" filter="url(#bC1)"/>
<rect x="425.60" y="628.90" width="21.60" height="6.00" rx="5.10" ry="3.00" fill="#242424" filter="url(#bC1)"/>
<rect x="451.70" y="628.90" width="22.90" height="6.00" rx="5.10" ry="3.00" fill="#242424" filter="url(#bC1)"/>
<rect x="364.8" y="528.8" width="112.6" height="21.70" fill="none" stroke="#111" stroke-width="1.2"/>
<line x1="361.3" y1="536.20" x2="364.8" y2="536.20" stroke="#222" stroke-width="0.9"/>
<text x="355.90" y="538.50" font-size="6.4" text-anchor="middle" fill="#333" stroke="#333" stroke-width="0.22" textLength="7.2" lengthAdjust="spacingAndGlyphs" >66</text>
<text x="481.20" y="541.95" font-size="6.6" text-anchor="start" fill="#222" stroke="#222" stroke-width="0.22" textLength="11.5" lengthAdjust="spacingAndGlyphs" >Chk</text>
<rect x="364.8" y="554.5" width="112.6" height="18.50" fill="none" stroke="#111" stroke-width="1.2"/>
<line x1="361.3" y1="558.50" x2="364.8" y2="558.50" stroke="#222" stroke-width="0.9"/>
<text x="355.90" y="560.80" font-size="6.4" text-anchor="middle" fill="#333" stroke="#333" stroke-width="0.22" textLength="7.2" lengthAdjust="spacingAndGlyphs" >56</text>
<text x="481.20" y="566.05" font-size="6.6" text-anchor="start" fill="#222" stroke="#222" stroke-width="0.22" textLength="20.5" lengthAdjust="spacingAndGlyphs" >PTP-1B</text>
<rect x="364.8" y="577.4" width="112.6" height="19.40" fill="none" stroke="#111" stroke-width="1.2"/>
<line x1="361.3" y1="588.50" x2="364.8" y2="588.50" stroke="#222" stroke-width="0.9"/>
<text x="355.90" y="590.80" font-size="6.4" text-anchor="middle" fill="#333" stroke="#333" stroke-width="0.22" textLength="7.2" lengthAdjust="spacingAndGlyphs" >66</text>
<text x="481.20" y="589.40" font-size="6.6" text-anchor="start" fill="#222" stroke="#222" stroke-width="0.22" textLength="14.5" lengthAdjust="spacingAndGlyphs" >Shp1</text>
<rect x="364.8" y="601.9" width="112.6" height="16.70" fill="none" stroke="#111" stroke-width="1.2"/>
<line x1="361.3" y1="612.90" x2="364.8" y2="612.90" stroke="#222" stroke-width="0.9"/>
<text x="355.90" y="615.20" font-size="6.4" text-anchor="middle" fill="#333" stroke="#333" stroke-width="0.22" textLength="7.2" lengthAdjust="spacingAndGlyphs" >66</text>
<text x="481.20" y="612.55" font-size="6.6" text-anchor="start" fill="#222" stroke="#222" stroke-width="0.22" textLength="14.5" lengthAdjust="spacingAndGlyphs" >Shp2</text>
<rect x="364.8" y="622.0" width="112.6" height="21.40" fill="none" stroke="#111" stroke-width="1.2"/>
<line x1="361.3" y1="628.90" x2="364.8" y2="628.90" stroke="#222" stroke-width="0.9"/>
<text x="355.90" y="631.20" font-size="6.4" text-anchor="middle" fill="#333" stroke="#333" stroke-width="0.22" textLength="7.2" lengthAdjust="spacingAndGlyphs" >56</text>
<text x="481.20" y="635.00" font-size="6.6" text-anchor="start" fill="#222" stroke="#222" stroke-width="0.22" textLength="19.5" lengthAdjust="spacingAndGlyphs" >tubulin</text>
<rect x="0" y="0" width="520" height="1.3" fill="#000"/>
<rect x="0" y="0" width="1.4" height="699" fill="#000"/>
<rect x="518.5" y="0" width="1.5" height="699" fill="#000"/>
<rect x="0" y="697.5" width="520" height="1.5" fill="#000"/></svg></body></html>
